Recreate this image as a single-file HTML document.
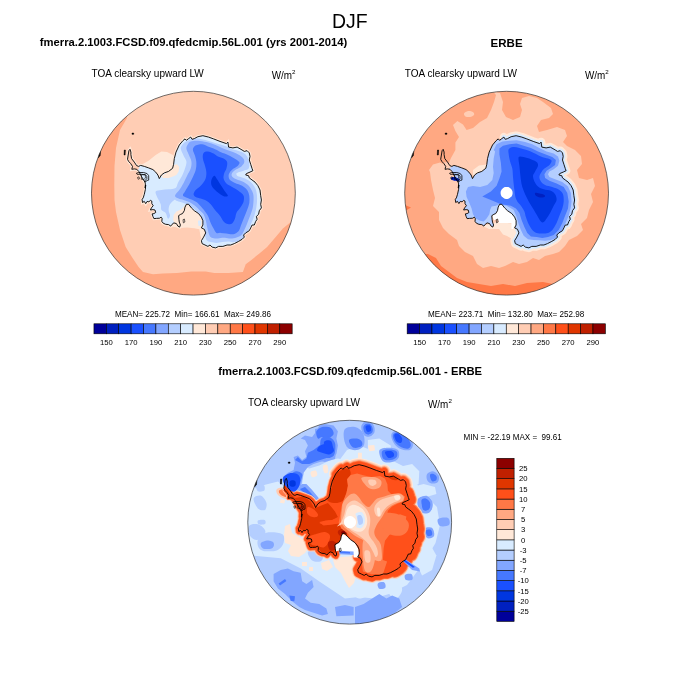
<!DOCTYPE html>
<html><head><meta charset="utf-8"><title>DJF TOA clearsky upward LW</title>
<style>
html,body{margin:0;padding:0;background:#fff;}
body{width:700px;height:700px;overflow:hidden;}
svg{display:block;}
text{font-family:"Liberation Sans",sans-serif;fill:#000;}
</style></head><body>
<svg width="700" height="700" viewBox="0 0 700 700">
<rect width="700" height="700" fill="#fff"/>
<text x="349.8" y="27.7" font-size="19.6" text-anchor="middle" font-weight="normal" textLength="35.6" lengthAdjust="spacingAndGlyphs" xml:space="preserve">DJF</text>
<text x="193.5" y="45.8" font-size="11.1" text-anchor="middle" font-weight="bold" textLength="307.4" lengthAdjust="spacingAndGlyphs" xml:space="preserve">fmerra.2.1003.FCSD.f09.qfedcmip.56L.001 (yrs 2001-2014)</text>
<text x="506.6" y="47.1" font-size="11.3" text-anchor="middle" font-weight="bold" textLength="32.0" lengthAdjust="spacingAndGlyphs" xml:space="preserve">ERBE</text>
<text x="350.2" y="375.3" font-size="11.1" text-anchor="middle" font-weight="bold" textLength="263.8" lengthAdjust="spacingAndGlyphs" xml:space="preserve">fmerra.2.1003.FCSD.f09.qfedcmip.56L.001 - ERBE</text>
<text x="91.6" y="76.6" font-size="10.3" text-anchor="start" font-weight="normal" textLength="112.2" lengthAdjust="spacingAndGlyphs" xml:space="preserve">TOA clearsky upward LW</text>
<text x="404.8" y="76.6" font-size="10.3" text-anchor="start" font-weight="normal" textLength="112.2" lengthAdjust="spacingAndGlyphs" xml:space="preserve">TOA clearsky upward LW</text>
<text x="247.9" y="405.7" font-size="10.3" text-anchor="start" font-weight="normal" textLength="112.2" lengthAdjust="spacingAndGlyphs" xml:space="preserve">TOA clearsky upward LW</text>
<text x="271.7" y="78.8" font-size="10.3" textLength="20.3" lengthAdjust="spacingAndGlyphs">W/m</text><text x="292.09999999999997" y="73.89999999999999" font-size="6.2">2</text>
<text x="584.9" y="78.8" font-size="10.3" textLength="20.3" lengthAdjust="spacingAndGlyphs">W/m</text><text x="605.3" y="73.89999999999999" font-size="6.2">2</text>
<text x="428.0" y="407.9" font-size="10.3" textLength="20.3" lengthAdjust="spacingAndGlyphs">W/m</text><text x="448.4" y="403.0" font-size="6.2">2</text>
<text x="114.9" y="316.6" font-size="8.2" text-anchor="start" font-weight="normal" textLength="156.2" lengthAdjust="spacingAndGlyphs" xml:space="preserve">MEAN= 225.72  Min= 166.61  Max= 249.86</text>
<text x="428.1" y="316.6" font-size="8.2" text-anchor="start" font-weight="normal" textLength="156.2" lengthAdjust="spacingAndGlyphs" xml:space="preserve">MEAN= 223.71  Min= 132.80  Max= 252.98</text>
<text x="463.6" y="440.1" font-size="8.2" text-anchor="start" font-weight="normal" textLength="98.2" lengthAdjust="spacingAndGlyphs" xml:space="preserve">MIN = -22.19 MAX =  99.61</text>
<clipPath id="clip1"><circle cx="193.4" cy="193.2" r="101.9"/></clipPath>
<g clip-path="url(#clip1)">
<rect x="89.5" y="89.29999999999998" width="207.8" height="207.8" fill="#ffcdb4"/>
<path d="M126.5 115.5 L127.0 118.0 L120.0 130.0 L116.0 148.0 L114.5 166.0 L114.3 185.0 L114.5 200.0 L116.0 212.0 L120.0 230.0 L125.7 247.0 L132.9 258.6 L138.6 267.0 L143.0 272.0 L153.0 274.3 L163.0 273.6 L177.0 272.9 L191.4 271.4 L205.7 271.4 L214.3 272.9 L228.6 272.9 L242.9 272.1 L245.7 264.3 L251.4 260.0 L260.0 252.9 L267.1 247.1 L275.7 237.1 L282.9 228.6 L291.4 221.4 L300.0 215.0 L310.0 230.0 L310.0 310.0 L80.0 310.0 L80.0 100.0 L120.0 100.0Z" fill="#ffa882"/>
<path d="M141.4 164.7 L148.6 160.7 L155.7 155.0 L161.4 151.4 L167.1 152.1 L172.9 155.0 L175.0 158.6 L175.0 164.3 L173.6 168.6 L169.3 172.1 L165.0 174.0 L161.4 175.7 L159.3 179.3 L156.4 174.6 L153.6 171.1 L149.3 168.3 L145.7 166.1Z" fill="#ffe8d8"/>
<path d="M186.4 203.6 L191.4 207.1 L195.0 210.0 L199.3 213.1 L202.1 216.9 L203.6 220.7 L203.6 225.0 L205.0 228.6 L205.7 232.9 L204.3 237.1 L202.9 240.7 L200.7 237.1 L200.0 232.9 L199.3 229.3 L194.3 228.3 L187.1 227.4 L180.0 227.9 L174.3 227.1 L168.6 226.4 L164.3 225.4 L161.4 223.6 L161.7 220.0 L167.1 222.1 L180.0 211.4Z" fill="#ffe8d8"/>
<path d="M197.9 220.7 L201.7 220.0 L202.9 225.7 L198.6 226.0Z" fill="#d8ebff"/>
<path d="M130.0 149.3 L130.9 152.1 L130.9 154.6 L131.6 158.6 L134.3 162.1 L136.6 165.6 L138.6 166.4 L140.7 165.4 L144.3 166.4 L148.6 167.9 L152.9 169.6 L155.7 172.1 L157.9 175.0 L159.3 178.6 L161.4 175.0 L164.3 172.9 L168.6 171.4 L172.6 168.3 L173.6 164.3 L174.3 158.6 L176.0 152.1 L179.3 145.0 L182.9 140.7 L185.0 138.9 L186.4 140.3 L188.6 138.6 L190.7 137.1 L192.1 139.3 L194.3 138.6 L197.9 136.7 L202.9 135.7 L208.6 137.1 L213.6 138.9 L220.0 141.4 L226.4 143.6 L227.9 142.1 L228.6 147.1 L232.9 147.9 L237.1 147.1 L242.1 150.0 L244.3 151.4 L247.1 150.7 L249.3 152.9 L250.0 156.4 L249.3 160.0 L250.7 164.3 L252.1 168.6 L252.9 170.7 L250.0 172.1 L246.4 173.6 L245.7 175.0 L248.6 175.7 L249.3 177.9 L252.1 180.0 L255.0 182.1 L257.9 185.7 L260.0 190.0 L260.7 195.7 L261.4 200.0 L260.7 204.3 L261.4 207.9 L259.3 210.7 L258.6 214.3 L256.4 216.4 L257.1 219.3 L255.7 221.4 L254.3 225.0 L252.1 225.0 L250.7 227.9 L249.3 230.7 L245.7 232.9 L243.6 235.0 L244.3 237.1 L242.1 239.3 L238.6 241.4 L234.3 243.6 L230.7 245.0 L227.1 245.0 L222.9 246.4 L218.6 246.4 L215.7 247.9 L212.1 247.1 L210.0 245.0 L207.9 246.4 L205.0 245.0 L202.1 243.6 L201.4 240.7 L203.6 237.1 L205.7 232.9 L204.3 229.3 L201.4 227.9 L202.9 225.0 L202.9 220.7 L201.4 217.1 L198.6 213.6 L194.3 210.7 L191.4 207.9 L188.6 204.3 L186.4 204.3 L185.0 207.1 L184.3 210.7 L182.5 213.6 L180.7 214.3 L178.6 215.7 L178.9 219.3 L179.3 222.1 L180.4 225.0 L179.6 227.1 L177.9 226.1 L176.4 223.6 L173.9 222.9 L172.1 224.3 L170.7 226.1 L168.6 224.6 L165.7 224.3 L163.2 223.2 L161.8 221.4 L162.1 218.6 L161.1 217.1 L159.6 218.2 L156.4 218.4 L153.9 218.6 L152.9 216.4 L152.1 213.9 L153.9 213.6 L155.7 212.5 L155.0 210.0 L152.9 209.6 L150.4 210.0 L151.4 207.9 L153.2 205.7 L151.8 203.6 L151.8 201.1 L150.4 200.4 L148.9 201.8 L147.1 201.4 L145.7 203.6 L144.3 201.4 L142.5 202.5 L142.1 199.3 L143.2 197.9 L144.3 194.3 L145.4 189.3 L145.7 185.0 L145.1 187.9 L145.4 183.9 L144.9 182.1 L141.4 176.4 L138.9 171.6 L136.8 169.3 L134.3 168.9 L131.8 169.3 L132.5 166.4 L130.7 163.6 L128.6 161.4 L127.5 159.3 L128.2 155.0 L128.9 150.7Z" fill="none" stroke="#ffe8d8" stroke-width="3"/>
<clipPath id="cont1"><path d="M130.0 149.3 L130.9 152.1 L130.9 154.6 L131.6 158.6 L134.3 162.1 L136.6 165.6 L138.6 166.4 L140.7 165.4 L144.3 166.4 L148.6 167.9 L152.9 169.6 L155.7 172.1 L157.9 175.0 L159.3 178.6 L161.4 175.0 L164.3 172.9 L168.6 171.4 L172.6 168.3 L173.6 164.3 L174.3 158.6 L176.0 152.1 L179.3 145.0 L182.9 140.7 L185.0 138.9 L186.4 140.3 L188.6 138.6 L190.7 137.1 L192.1 139.3 L194.3 138.6 L197.9 136.7 L202.9 135.7 L208.6 137.1 L213.6 138.9 L220.0 141.4 L226.4 143.6 L227.9 142.1 L228.6 147.1 L232.9 147.9 L237.1 147.1 L242.1 150.0 L244.3 151.4 L247.1 150.7 L249.3 152.9 L250.0 156.4 L249.3 160.0 L250.7 164.3 L252.1 168.6 L252.9 170.7 L250.0 172.1 L246.4 173.6 L245.7 175.0 L248.6 175.7 L249.3 177.9 L252.1 180.0 L255.0 182.1 L257.9 185.7 L260.0 190.0 L260.7 195.7 L261.4 200.0 L260.7 204.3 L261.4 207.9 L259.3 210.7 L258.6 214.3 L256.4 216.4 L257.1 219.3 L255.7 221.4 L254.3 225.0 L252.1 225.0 L250.7 227.9 L249.3 230.7 L245.7 232.9 L243.6 235.0 L244.3 237.1 L242.1 239.3 L238.6 241.4 L234.3 243.6 L230.7 245.0 L227.1 245.0 L222.9 246.4 L218.6 246.4 L215.7 247.9 L212.1 247.1 L210.0 245.0 L207.9 246.4 L205.0 245.0 L202.1 243.6 L201.4 240.7 L203.6 237.1 L205.7 232.9 L204.3 229.3 L201.4 227.9 L202.9 225.0 L202.9 220.7 L201.4 217.1 L198.6 213.6 L194.3 210.7 L191.4 207.9 L188.6 204.3 L186.4 204.3 L185.0 207.1 L184.3 210.7 L182.5 213.6 L180.7 214.3 L178.6 215.7 L178.9 219.3 L179.3 222.1 L180.4 225.0 L179.6 227.1 L177.9 226.1 L176.4 223.6 L173.9 222.9 L172.1 224.3 L170.7 226.1 L168.6 224.6 L165.7 224.3 L163.2 223.2 L161.8 221.4 L162.1 218.6 L161.1 217.1 L159.6 218.2 L156.4 218.4 L153.9 218.6 L152.9 216.4 L152.1 213.9 L153.9 213.6 L155.7 212.5 L155.0 210.0 L152.9 209.6 L150.4 210.0 L151.4 207.9 L153.2 205.7 L151.8 203.6 L151.8 201.1 L150.4 200.4 L148.9 201.8 L147.1 201.4 L145.7 203.6 L144.3 201.4 L142.5 202.5 L142.1 199.3 L143.2 197.9 L144.3 194.3 L145.4 189.3 L145.7 185.0 L145.1 187.9 L145.4 183.9 L144.9 182.1 L141.4 176.4 L138.9 171.6 L136.8 169.3 L134.3 168.9 L131.8 169.3 L132.5 166.4 L130.7 163.6 L128.6 161.4 L127.5 159.3 L128.2 155.0 L128.9 150.7Z"/></clipPath>
<g clip-path="url(#cont1)">
<path d="M130.0 149.3 L130.9 152.1 L130.9 154.6 L131.6 158.6 L134.3 162.1 L136.6 165.6 L138.6 166.4 L140.7 165.4 L144.3 166.4 L148.6 167.9 L152.9 169.6 L155.7 172.1 L157.9 175.0 L159.3 178.6 L161.4 175.0 L164.3 172.9 L168.6 171.4 L172.6 168.3 L173.6 164.3 L174.3 158.6 L176.0 152.1 L179.3 145.0 L182.9 140.7 L185.0 138.9 L186.4 140.3 L188.6 138.6 L190.7 137.1 L192.1 139.3 L194.3 138.6 L197.9 136.7 L202.9 135.7 L208.6 137.1 L213.6 138.9 L220.0 141.4 L226.4 143.6 L227.9 142.1 L228.6 147.1 L232.9 147.9 L237.1 147.1 L242.1 150.0 L244.3 151.4 L247.1 150.7 L249.3 152.9 L250.0 156.4 L249.3 160.0 L250.7 164.3 L252.1 168.6 L252.9 170.7 L250.0 172.1 L246.4 173.6 L245.7 175.0 L248.6 175.7 L249.3 177.9 L252.1 180.0 L255.0 182.1 L257.9 185.7 L260.0 190.0 L260.7 195.7 L261.4 200.0 L260.7 204.3 L261.4 207.9 L259.3 210.7 L258.6 214.3 L256.4 216.4 L257.1 219.3 L255.7 221.4 L254.3 225.0 L252.1 225.0 L250.7 227.9 L249.3 230.7 L245.7 232.9 L243.6 235.0 L244.3 237.1 L242.1 239.3 L238.6 241.4 L234.3 243.6 L230.7 245.0 L227.1 245.0 L222.9 246.4 L218.6 246.4 L215.7 247.9 L212.1 247.1 L210.0 245.0 L207.9 246.4 L205.0 245.0 L202.1 243.6 L201.4 240.7 L203.6 237.1 L205.7 232.9 L204.3 229.3 L201.4 227.9 L202.9 225.0 L202.9 220.7 L201.4 217.1 L198.6 213.6 L194.3 210.7 L191.4 207.9 L188.6 204.3 L186.4 204.3 L185.0 207.1 L184.3 210.7 L182.5 213.6 L180.7 214.3 L178.6 215.7 L178.9 219.3 L179.3 222.1 L180.4 225.0 L179.6 227.1 L177.9 226.1 L176.4 223.6 L173.9 222.9 L172.1 224.3 L170.7 226.1 L168.6 224.6 L165.7 224.3 L163.2 223.2 L161.8 221.4 L162.1 218.6 L161.1 217.1 L159.6 218.2 L156.4 218.4 L153.9 218.6 L152.9 216.4 L152.1 213.9 L153.9 213.6 L155.7 212.5 L155.0 210.0 L152.9 209.6 L150.4 210.0 L151.4 207.9 L153.2 205.7 L151.8 203.6 L151.8 201.1 L150.4 200.4 L148.9 201.8 L147.1 201.4 L145.7 203.6 L144.3 201.4 L142.5 202.5 L142.1 199.3 L143.2 197.9 L144.3 194.3 L145.4 189.3 L145.7 185.0 L145.1 187.9 L145.4 183.9 L144.9 182.1 L141.4 176.4 L138.9 171.6 L136.8 169.3 L134.3 168.9 L131.8 169.3 L132.5 166.4 L130.7 163.6 L128.6 161.4 L127.5 159.3 L128.2 155.0 L128.9 150.7Z" fill="#d8ebff"/>
<path d="M161.4 175.7 L165.7 173.6 L172.6 168.6 L174.0 165.0 L177.1 164.3 L179.3 167.1 L178.6 171.4 L176.4 175.0 L172.9 176.4 L168.6 177.9 L162.9 177.9Z" fill="#ffe8d8"/>
<path d="M173.6 215.0 L176.4 211.4 L181.4 209.3 L187.1 202.9 L183.9 211.4 L181.7 214.3 L178.9 216.0 L179.6 220.7 L181.4 224.3 L179.3 227.4 L177.1 225.0 L175.0 224.3 L173.1 220.0Z" fill="#ffe8d8"/>
<path d="M125.7 147.1 L132.9 148.6 L135.0 164.3 L139.3 167.4 L136.4 172.9 L128.6 168.6Z" fill="#ffcdb4"/>
<path d="M180.7 148.6 C180.5 146.8 181.4 146.1 182.1 145.0 C182.9 143.9 183.8 143.0 185.0 142.1 C186.2 141.3 187.9 140.6 189.3 140.0 C190.7 139.4 191.7 138.8 193.6 138.6 C195.5 138.4 198.3 138.5 200.7 138.9 C203.1 139.2 205.5 140.0 207.9 140.7 C210.2 141.4 212.6 142.1 215.0 142.9 C217.4 143.6 220.0 144.3 222.1 145.0 C224.3 145.7 226.2 146.4 227.9 147.1 C229.5 147.9 230.5 148.7 232.1 149.3 C233.8 149.9 236.0 150.1 237.9 150.7 C239.8 151.3 242.0 151.9 243.6 152.9 C245.1 153.8 246.3 155.1 247.1 156.4 C248.0 157.7 248.2 159.2 248.6 160.7 C248.9 162.3 249.4 164.3 249.3 165.7 C249.2 167.1 248.8 168.5 247.9 169.3 C246.9 170.1 245.0 170.2 243.6 170.7 C242.1 171.2 240.5 171.7 239.3 172.1 C238.1 172.6 236.8 173.0 236.4 173.6 C236.1 174.2 236.4 175.1 237.1 175.7 C237.9 176.3 239.2 176.5 240.7 177.1 C242.3 177.7 244.8 178.5 246.4 179.3 C248.1 180.1 249.4 180.9 250.7 182.1 C252.0 183.3 253.3 184.9 254.3 186.4 C255.2 188.0 256.0 189.4 256.4 191.4 C256.9 193.5 257.1 196.0 257.1 198.6 C257.1 201.2 256.9 204.3 256.4 207.1 C256.0 210.0 255.1 213.1 254.3 215.7 C253.5 218.3 252.4 220.5 251.4 222.9 C250.5 225.2 249.6 227.7 248.6 230.0 C247.5 232.3 246.5 234.6 245.0 236.4 C243.5 238.2 241.2 239.8 239.3 240.7 C237.4 241.7 235.5 242.0 233.6 242.1 C231.7 242.3 229.8 241.4 227.9 241.4 C226.0 241.4 224.0 241.9 222.1 242.1 C220.2 242.4 218.3 242.9 216.4 242.9 C214.5 242.9 212.4 242.6 210.7 242.1 C209.0 241.7 207.4 241.3 206.4 240.0 C205.5 238.7 205.4 236.2 205.0 234.3 C204.6 232.4 204.6 230.5 204.3 228.6 C203.9 226.7 203.5 224.8 202.9 222.9 C202.3 221.0 201.5 218.8 200.7 217.1 C199.9 215.5 199.1 214.3 197.9 212.9 C196.7 211.4 195.0 209.8 193.6 208.6 C192.1 207.4 190.7 206.5 189.3 205.7 C187.9 204.9 186.4 204.2 185.0 203.6 C183.6 203.0 182.1 202.6 180.7 202.1 C179.3 201.7 177.5 201.1 176.4 200.7 C175.4 200.4 175.4 199.4 174.3 200.0 C173.2 200.6 171.0 202.6 170.0 204.3 C169.0 206.0 168.6 208.1 168.6 210.0 C168.6 211.9 170.1 214.3 170.0 215.7 C169.9 217.1 168.6 219.0 167.9 218.6 C167.1 218.1 166.8 214.3 165.7 212.9 C164.6 211.4 162.3 211.4 161.4 210.0 C160.6 208.6 161.4 206.4 160.7 204.3 C160.0 202.1 158.0 199.3 157.1 197.1 C156.3 195.0 155.0 192.6 155.7 191.4 C156.4 190.2 159.3 190.4 161.4 190.0 C163.6 189.6 166.2 189.6 168.6 189.3 C170.9 188.9 174.2 188.9 175.7 187.9 C177.3 186.8 176.8 184.9 177.9 182.9 C178.9 180.8 180.9 178.1 182.1 175.7 C183.3 173.3 184.3 170.9 185.0 168.6 C185.7 166.2 186.7 163.6 186.4 161.4 C186.2 159.3 184.5 157.9 183.6 155.7 C182.6 153.6 180.9 150.4 180.7 148.6Z" fill="#b4ceff"/>
<path d="M186.4 148.6 C186.3 146.9 187.1 145.5 187.9 144.3 C188.6 143.1 189.0 142.0 190.7 141.4 C192.4 140.8 195.2 140.6 197.9 140.7 C200.5 140.8 203.8 141.5 206.4 142.1 C209.0 142.7 211.0 143.3 213.6 144.3 C216.2 145.2 219.5 146.8 222.1 147.9 C224.8 148.9 226.9 149.8 229.3 150.7 C231.7 151.7 234.2 152.4 236.4 153.6 C238.7 154.8 241.6 156.4 242.9 157.9 C244.2 159.3 244.5 160.7 244.3 162.1 C244.1 163.6 242.7 165.2 241.4 166.4 C240.1 167.6 238.0 168.2 236.4 169.3 C234.9 170.4 232.9 171.7 232.1 172.9 C231.4 174.1 231.4 175.4 232.1 176.4 C232.9 177.5 234.5 178.3 236.4 179.3 C238.3 180.2 241.4 180.9 243.6 182.1 C245.7 183.3 247.7 184.6 249.3 186.4 C250.8 188.2 252.1 190.8 252.9 192.9 C253.6 194.9 253.6 196.2 253.6 198.6 C253.6 200.9 253.3 204.5 252.9 207.1 C252.4 209.8 251.5 211.9 250.7 214.3 C249.9 216.7 248.8 219.1 247.9 221.4 C246.9 223.8 246.0 226.4 245.0 228.6 C244.0 230.7 243.3 232.9 242.1 234.3 C240.9 235.7 239.5 236.4 237.9 237.1 C236.2 237.9 234.0 238.4 232.1 238.6 C230.2 238.7 228.3 238.0 226.4 237.9 C224.5 237.7 222.6 237.7 220.7 237.9 C218.8 238.0 216.7 238.7 215.0 238.6 C213.3 238.4 211.8 238.1 210.7 237.1 C209.6 236.2 209.2 234.5 208.6 232.9 C208.0 231.2 207.6 229.3 207.1 227.1 C206.7 225.0 206.3 222.1 205.7 220.0 C205.1 217.9 204.6 216.0 203.6 214.3 C202.5 212.6 200.7 211.4 199.3 210.0 C197.9 208.6 196.7 207.0 195.0 205.7 C193.3 204.4 191.2 203.1 189.3 202.1 C187.4 201.2 185.4 200.6 183.6 200.0 C181.8 199.4 180.0 199.3 178.6 198.6 C177.1 197.9 174.9 197.1 175.0 195.7 C175.1 194.3 177.9 192.1 179.3 190.0 C180.7 187.9 182.3 185.2 183.6 182.9 C184.9 180.5 185.9 178.1 187.1 175.7 C188.3 173.3 190.0 170.9 190.7 168.6 C191.4 166.2 191.8 163.8 191.4 161.4 C191.1 159.1 189.4 156.4 188.6 154.3 C187.7 152.1 186.5 150.2 186.4 148.6Z" fill="#82a6ff"/>
<path d="M192.9 150.0 C192.7 148.5 193.6 147.3 194.3 146.4 C195.0 145.6 195.8 145.4 197.1 145.0 C198.4 144.6 200.4 144.1 202.1 144.3 C203.9 144.5 206.0 145.7 207.9 146.4 C209.8 147.1 211.7 147.7 213.6 148.6 C215.5 149.4 217.1 150.5 219.3 151.4 C221.4 152.4 224.1 153.2 226.4 154.3 C228.8 155.4 231.4 156.6 233.6 157.9 C235.7 159.2 238.6 160.8 239.3 162.1 C240.0 163.4 238.8 164.6 237.9 165.7 C236.9 166.8 234.9 167.5 233.6 168.6 C232.3 169.6 230.8 170.9 230.0 172.1 C229.2 173.3 228.6 174.4 228.6 175.7 C228.6 177.0 228.9 178.8 230.0 180.0 C231.1 181.2 233.0 181.9 235.0 182.9 C237.0 183.8 240.1 184.5 242.1 185.7 C244.2 186.9 245.9 188.3 247.1 190.0 C248.3 191.7 248.9 193.6 249.3 195.7 C249.6 197.9 249.6 200.5 249.3 202.9 C248.9 205.2 248.0 207.6 247.1 210.0 C246.3 212.4 245.2 214.8 244.3 217.1 C243.3 219.5 242.3 222.1 241.4 224.3 C240.6 226.4 240.1 228.6 239.3 230.0 C238.5 231.4 237.6 232.1 236.4 232.9 C235.2 233.6 233.8 234.2 232.1 234.3 C230.5 234.4 228.3 233.8 226.4 233.6 C224.5 233.3 222.4 233.0 220.7 232.9 C219.0 232.7 217.6 233.6 216.4 232.9 C215.2 232.1 214.5 230.2 213.6 228.6 C212.6 226.9 211.7 225.0 210.7 222.9 C209.8 220.7 208.8 217.6 207.9 215.7 C206.9 213.8 206.1 212.9 205.0 211.4 C203.9 210.0 202.9 208.7 201.4 207.1 C200.0 205.6 198.2 203.4 196.4 202.1 C194.6 200.8 192.6 200.1 190.7 199.3 C188.8 198.5 186.3 197.9 185.0 197.1 C183.7 196.4 182.9 196.0 182.9 195.0 C182.9 194.0 183.9 193.2 185.0 191.4 C186.1 189.6 188.0 186.7 189.3 184.3 C190.6 181.9 191.8 179.5 192.9 177.1 C193.9 174.8 195.1 172.4 195.7 170.0 C196.3 167.6 196.5 165.2 196.4 162.9 C196.3 160.5 195.6 157.9 195.0 155.7 C194.4 153.6 193.0 151.5 192.9 150.0Z" fill="#4678ff"/>
<path d="M203.6 152.9 C204.4 151.7 206.2 151.3 207.9 151.4 C209.5 151.5 211.9 152.7 213.6 153.6 C215.2 154.4 216.2 155.6 217.9 156.4 C219.5 157.3 222.0 157.6 223.6 158.6 C225.1 159.5 226.7 160.5 227.1 162.1 C227.6 163.8 226.9 166.8 226.4 168.6 C226.0 170.4 224.8 171.2 224.3 172.9 C223.8 174.5 223.2 176.8 223.6 178.6 C223.9 180.4 225.0 182.1 226.4 183.6 C227.9 185.0 230.0 185.8 232.1 187.1 C234.3 188.4 237.4 190.0 239.3 191.4 C241.2 192.9 242.9 194.0 243.6 195.7 C244.3 197.4 244.0 199.5 243.6 201.4 C243.1 203.3 241.9 205.2 240.7 207.1 C239.5 209.0 237.4 211.0 236.4 212.9 C235.5 214.8 235.7 216.8 235.0 218.6 C234.3 220.4 233.3 222.7 232.1 223.6 C230.9 224.5 229.3 224.4 227.9 224.0 C226.4 223.6 224.9 222.8 223.6 221.4 C222.3 220.0 221.4 217.6 220.0 215.7 C218.6 213.8 216.5 211.9 215.0 210.0 C213.5 208.1 212.1 205.8 210.7 204.3 C209.3 202.7 208.1 201.7 206.4 200.7 C204.8 199.8 202.5 199.2 200.7 198.6 C198.9 198.0 196.9 197.9 195.7 197.1 C194.5 196.4 193.6 195.5 193.6 194.3 C193.6 193.1 194.5 191.4 195.7 190.0 C196.9 188.6 199.2 187.4 200.7 185.7 C202.3 184.0 204.0 182.1 205.0 180.0 C206.0 177.9 206.4 175.2 206.4 172.9 C206.4 170.5 205.6 168.1 205.0 165.7 C204.4 163.3 203.1 160.7 202.9 158.6 C202.6 156.4 202.7 154.1 203.6 152.9Z" fill="#1a50ff"/>
<path d="M214.3 175.7 C215.2 175.6 216.1 177.7 217.1 179.3 C218.2 180.8 219.4 183.0 220.7 185.0 C222.0 187.0 223.8 189.6 225.0 191.4 C226.2 193.2 228.0 194.9 227.9 195.7 C227.7 196.5 225.7 196.8 224.3 196.4 C222.9 196.1 221.0 194.8 219.3 193.6 C217.6 192.4 215.6 190.7 214.3 189.3 C213.0 187.9 211.9 186.5 211.4 185.0 C211.0 183.5 211.0 181.5 211.4 180.0 C211.9 178.5 213.3 175.8 214.3 175.7Z" fill="#0036e0"/>
</g>
<path d="M130.0 149.3 L130.9 152.1 L130.9 154.6 L131.6 158.6 L134.3 162.1 L136.6 165.6 L138.6 166.4 L140.7 165.4 L144.3 166.4 L148.6 167.9 L152.9 169.6 L155.7 172.1 L157.9 175.0 L159.3 178.6 L161.4 175.0 L164.3 172.9 L168.6 171.4 L172.6 168.3 L173.6 164.3 L174.3 158.6 L176.0 152.1 L179.3 145.0 L182.9 140.7 L185.0 138.9 L186.4 140.3 L188.6 138.6 L190.7 137.1 L192.1 139.3 L194.3 138.6 L197.9 136.7 L202.9 135.7 L208.6 137.1 L213.6 138.9 L220.0 141.4 L226.4 143.6 L227.9 142.1 L228.6 147.1 L232.9 147.9 L237.1 147.1 L242.1 150.0 L244.3 151.4 L247.1 150.7 L249.3 152.9 L250.0 156.4 L249.3 160.0 L250.7 164.3 L252.1 168.6 L252.9 170.7 L250.0 172.1 L246.4 173.6 L245.7 175.0 L248.6 175.7 L249.3 177.9 L252.1 180.0 L255.0 182.1 L257.9 185.7 L260.0 190.0 L260.7 195.7 L261.4 200.0 L260.7 204.3 L261.4 207.9 L259.3 210.7 L258.6 214.3 L256.4 216.4 L257.1 219.3 L255.7 221.4 L254.3 225.0 L252.1 225.0 L250.7 227.9 L249.3 230.7 L245.7 232.9 L243.6 235.0 L244.3 237.1 L242.1 239.3 L238.6 241.4 L234.3 243.6 L230.7 245.0 L227.1 245.0 L222.9 246.4 L218.6 246.4 L215.7 247.9 L212.1 247.1 L210.0 245.0 L207.9 246.4 L205.0 245.0 L202.1 243.6 L201.4 240.7 L203.6 237.1 L205.7 232.9 L204.3 229.3 L201.4 227.9 L202.9 225.0 L202.9 220.7 L201.4 217.1 L198.6 213.6 L194.3 210.7 L191.4 207.9 L188.6 204.3 L186.4 204.3 L185.0 207.1 L184.3 210.7 L182.5 213.6 L180.7 214.3 L178.6 215.7 L178.9 219.3 L179.3 222.1 L180.4 225.0 L179.6 227.1 L177.9 226.1 L176.4 223.6 L173.9 222.9 L172.1 224.3 L170.7 226.1 L168.6 224.6 L165.7 224.3 L163.2 223.2 L161.8 221.4 L162.1 218.6 L161.1 217.1 L159.6 218.2 L156.4 218.4 L153.9 218.6 L152.9 216.4 L152.1 213.9 L153.9 213.6 L155.7 212.5 L155.0 210.0 L152.9 209.6 L150.4 210.0 L151.4 207.9 L153.2 205.7 L151.8 203.6 L151.8 201.1 L150.4 200.4 L148.9 201.8 L147.1 201.4 L145.7 203.6 L144.3 201.4 L142.5 202.5 L142.1 199.3 L143.2 197.9 L144.3 194.3 L145.4 189.3 L145.7 185.0 L145.1 187.9 L145.4 183.9 L144.9 182.1 L141.4 176.4 L138.9 171.6 L136.8 169.3 L134.3 168.9 L131.8 169.3 L132.5 166.4 L130.7 163.6 L128.6 161.4 L127.5 159.3 L128.2 155.0 L128.9 150.7Z" fill="none" stroke="#000" stroke-width="0.9" stroke-linejoin="round"/>
<path d="M136.4 173.2 L138.6 172.5 L143.6 172.5 L147.1 173.6 L148.7 175.7 L148.7 180.1 L147.1 180.5 L145.1 182.1 L145.0 180.7 L146.8 178.6 L146.8 176.4 L145.4 174.6 L141.4 174.3 L137.1 174.3Z" fill="none" stroke="#000" stroke-width="0.8"/>
<path d="M141.4 174.6 L141.4 179.3 L143.6 179.6 L145.4 178.2 L145.4 175.0Z" fill="none" stroke="#000" stroke-width="0.6"/>
<path d="M137.5 177.5 L138.9 176.8 L139.6 178.6 L138.2 179.3Z" fill="none" stroke="#000" stroke-width="0.6"/>
<path d="M183.0 219.7 L184.4 219.0 L184.9 222.0 L183.4 222.9Z" fill="none" stroke="#000" stroke-width="0.6"/>
<path d="M124.3 150.0 L125.4 150.0 L125.1 155.0 L124.1 155.0Z" fill="#000" stroke="#000" stroke-width="0.5"/>
<path d="M132.0 133.1 L133.7 133.1 L133.7 134.3 L132.0 134.3Z" fill="#000" stroke="#000" stroke-width="0.5"/>
<path d="M98.5 152.9 L100.6 151.2 L100.2 155.4 L98.2 158.0Z" fill="#000" stroke="#000" stroke-width="0.5"/>
</g>
<circle cx="193.4" cy="193.2" r="101.9" fill="none" stroke="#333" stroke-width="0.7"/>
<clipPath id="clip2"><circle cx="506.6" cy="193.2" r="101.9"/></clipPath>
<g clip-path="url(#clip2)">
<rect x="402.70000000000005" y="89.29999999999998" width="207.8" height="207.8" fill="#ffa882"/>
<path d="M429.0 170.0 L433.0 164.4 L440.0 162.4 L444.0 164.4 L448.0 165.0 L451.0 158.0 L455.4 150.0 L455.4 142.4 L459.0 137.0 L455.4 131.0 L453.0 125.0 L457.4 121.0 L463.0 124.4 L466.6 130.0 L473.0 128.0 L480.0 122.0 L487.0 118.0 L491.0 110.0 L494.0 102.0 L496.0 95.0 L493.0 91.6 L500.0 93.0 L503.0 102.0 L502.0 110.0 L506.0 117.0 L513.0 120.0 L520.0 117.0 L522.0 110.0 L520.0 104.0 L522.0 98.0 L529.0 96.0 L537.0 98.0 L543.0 102.0 L551.0 108.0 L553.0 114.0 L549.0 118.0 L541.0 120.0 L537.0 126.0 L539.0 132.0 L547.0 130.0 L557.0 127.0 L565.0 130.0 L567.0 136.0 L563.0 142.0 L567.0 146.0 L575.0 150.0 L581.0 156.0 L582.0 164.0 L577.0 170.0 L579.0 178.0 L587.0 180.0 L593.0 178.0 L595.0 186.0 L591.0 194.0 L593.0 202.0 L589.0 210.0 L587.0 218.0 L581.0 224.0 L583.0 230.0 L577.0 236.0 L569.0 240.0 L565.0 246.0 L559.0 252.0 L553.0 254.0 L545.0 256.0 L539.0 260.0 L533.0 258.0 L527.0 262.0 L519.0 264.0 L513.0 262.0 L505.0 266.0 L499.0 268.0 L491.0 266.0 L483.0 268.0 L477.0 264.0 L473.0 256.0 L465.0 252.0 L459.0 246.0 L457.0 240.0 L449.0 234.0 L443.0 228.0 L439.0 220.0 L439.0 212.0 L433.0 206.0 L435.0 198.0 L433.0 190.0 L431.0 180.0 L430.0 172.0Z" fill="#ffcdb4"/>
<path d="M464.0 113.6 C464.4 112.7 466.5 111.3 468.0 111.0 C469.5 110.7 472.0 111.3 473.0 112.0 C474.0 112.7 474.5 114.2 474.0 115.0 C473.5 115.8 471.4 116.8 470.0 117.0 C468.6 117.2 466.4 117.0 465.4 116.4 C464.4 115.8 463.6 114.5 464.0 113.6Z" fill="#ffcdb4"/>
<path d="M428.0 254.0 L436.0 258.0 L441.0 266.0 L449.0 272.0 L457.0 278.0 L467.0 282.0 L479.0 284.0 L491.0 286.0 L503.0 284.0 L515.0 286.0 L527.0 283.0 L543.0 282.0 L553.0 284.0 L563.0 282.0 L573.0 280.0 L583.0 278.0 L623.0 278.0 L623.0 320.0 L403.0 320.0 L403.0 254.0Z" fill="#ff7846"/>
<path d="M405.0 205.0 L411.0 207.6 L406.0 210.4Z" fill="#ff7846"/>
<path d="M483.0 226.0 L491.0 223.6 L501.0 221.6 L511.0 223.6 L516.0 230.0 L518.0 242.0 L512.0 239.0 L507.0 236.0 L503.0 234.4 L499.0 229.0 L489.0 229.0Z" fill="#ffe8d8"/>
<path d="M473.0 170.0 L479.0 165.6 L487.0 164.4 L491.0 167.0 L489.0 172.0 L479.0 175.0 L473.0 176.0Z" fill="#ffe8d8"/>
<path d="M500.1 203.6 L506.6 207.1 L512.7 212.6 L516.1 218.6 L517.6 225.0 L516.6 228.9 L511.6 229.1 L511.3 223.1 L499.4 222.9 L497.6 218.9 L494.1 220.3 L491.9 215.7 L495.9 212.9 L498.0 207.9Z" fill="#fff"/>
<path d="M503.9 137.1 L505.3 139.3 L507.5 138.6 L511.1 136.7 L516.1 135.7 L521.8 137.1 L526.8 138.9 L533.2 141.4 L539.6 143.6 L541.1 142.1 L541.8 147.1 L546.1 147.9 L550.3 147.1 L555.3 150.0 L557.5 151.4 L560.3 150.7 L562.5 152.9 L563.2 156.4 L562.5 160.0 L563.9 164.3 L565.3 168.6 L566.1 170.7 L563.2 172.1 L559.6 173.6 L558.9 175.0 L561.8 175.7 L562.5 177.9 L565.3 180.0 L568.2 182.1 L571.1 185.7 L573.2 190.0 L573.9 195.7 L574.6 200.0 L573.9 204.3 L574.6 207.9 L572.5 210.7 L571.8 214.3 L569.6 216.4 L570.3 219.3 L568.9 221.4 L567.5 225.0 L565.3 225.0 L563.9 227.9 L562.5 230.7 L558.9 232.9 L556.8 235.0 L557.5 237.1 L555.3 239.3 L551.8 241.4 L547.5 243.6 L543.9 245.0 L540.3 245.0 L536.1 246.4 L531.8 246.4 L528.9 247.9 L525.3 247.1 L523.2 245.0 L521.1 246.4 L518.2 245.0 L515.3 243.6 L514.6 240.7 L516.8 237.1 L518.9 232.9 L517.5 229.3" fill="none" stroke="#ffe8d8" stroke-width="8.5" stroke-linejoin="round" stroke-linecap="round"/>
<path d="M503.9 137.1 L505.3 139.3 L507.5 138.6 L511.1 136.7 L516.1 135.7 L521.8 137.1 L526.8 138.9 L533.2 141.4 L539.6 143.6 L541.1 142.1 L541.8 147.1 L546.1 147.9 L550.3 147.1 L555.3 150.0 L557.5 151.4 L560.3 150.7 L562.5 152.9 L563.2 156.4 L562.5 160.0 L563.9 164.3 L565.3 168.6 L566.1 170.7 L563.2 172.1 L559.6 173.6 L558.9 175.0 L561.8 175.7 L562.5 177.9 L565.3 180.0 L568.2 182.1 L571.1 185.7 L573.2 190.0 L573.9 195.7 L574.6 200.0 L573.9 204.3 L574.6 207.9 L572.5 210.7 L571.8 214.3 L569.6 216.4 L570.3 219.3 L568.9 221.4 L567.5 225.0 L565.3 225.0 L563.9 227.9 L562.5 230.7 L558.9 232.9 L556.8 235.0 L557.5 237.1 L555.3 239.3 L551.8 241.4 L547.5 243.6 L543.9 245.0 L540.3 245.0 L536.1 246.4 L531.8 246.4 L528.9 247.9 L525.3 247.1 L523.2 245.0 L521.1 246.4 L518.2 245.0 L515.3 243.6 L514.6 240.7 L516.8 237.1 L518.9 232.9 L517.5 229.3" fill="none" stroke="#d8ebff" stroke-width="4.6" stroke-linejoin="round" stroke-linecap="round"/>
<clipPath id="cont2"><path d="M443.2 149.3 L444.1 152.1 L444.1 154.6 L444.8 158.6 L447.5 162.1 L449.8 165.6 L451.8 166.4 L453.9 165.4 L457.5 166.4 L461.8 167.9 L466.1 169.6 L468.9 172.1 L471.1 175.0 L472.5 178.6 L474.6 175.0 L477.5 172.9 L481.8 171.4 L485.8 168.3 L486.8 164.3 L487.5 158.6 L489.2 152.1 L492.5 145.0 L496.1 140.7 L498.2 138.9 L499.6 140.3 L501.8 138.6 L503.9 137.1 L505.3 139.3 L507.5 138.6 L511.1 136.7 L516.1 135.7 L521.8 137.1 L526.8 138.9 L533.2 141.4 L539.6 143.6 L541.1 142.1 L541.8 147.1 L546.1 147.9 L550.3 147.1 L555.3 150.0 L557.5 151.4 L560.3 150.7 L562.5 152.9 L563.2 156.4 L562.5 160.0 L563.9 164.3 L565.3 168.6 L566.1 170.7 L563.2 172.1 L559.6 173.6 L558.9 175.0 L561.8 175.7 L562.5 177.9 L565.3 180.0 L568.2 182.1 L571.1 185.7 L573.2 190.0 L573.9 195.7 L574.6 200.0 L573.9 204.3 L574.6 207.9 L572.5 210.7 L571.8 214.3 L569.6 216.4 L570.3 219.3 L568.9 221.4 L567.5 225.0 L565.3 225.0 L563.9 227.9 L562.5 230.7 L558.9 232.9 L556.8 235.0 L557.5 237.1 L555.3 239.3 L551.8 241.4 L547.5 243.6 L543.9 245.0 L540.3 245.0 L536.1 246.4 L531.8 246.4 L528.9 247.9 L525.3 247.1 L523.2 245.0 L521.1 246.4 L518.2 245.0 L515.3 243.6 L514.6 240.7 L516.8 237.1 L518.9 232.9 L517.5 229.3 L514.6 227.9 L516.1 225.0 L516.1 220.7 L514.6 217.1 L511.8 213.6 L507.5 210.7 L504.6 207.9 L501.8 204.3 L499.6 204.3 L498.2 207.1 L497.5 210.7 L495.7 213.6 L493.9 214.3 L491.8 215.7 L492.1 219.3 L492.5 222.1 L493.6 225.0 L492.8 227.1 L491.1 226.1 L489.6 223.6 L487.1 222.9 L485.3 224.3 L483.9 226.1 L481.8 224.6 L478.9 224.3 L476.4 223.2 L475.0 221.4 L475.3 218.6 L474.3 217.1 L472.8 218.2 L469.6 218.4 L467.1 218.6 L466.1 216.4 L465.3 213.9 L467.1 213.6 L468.9 212.5 L468.2 210.0 L466.1 209.6 L463.6 210.0 L464.6 207.9 L466.4 205.7 L465.0 203.6 L465.0 201.1 L463.6 200.4 L462.1 201.8 L460.3 201.4 L458.9 203.6 L457.5 201.4 L455.7 202.5 L455.3 199.3 L456.4 197.9 L457.5 194.3 L458.6 189.3 L458.9 185.0 L458.3 187.9 L458.6 183.9 L458.1 182.1 L454.6 176.4 L452.1 171.6 L450.0 169.3 L447.5 168.9 L445.0 169.3 L445.7 166.4 L443.9 163.6 L441.8 161.4 L440.7 159.3 L441.4 155.0 L442.1 150.7Z"/></clipPath>
<g clip-path="url(#cont2)">
<path d="M443.2 149.3 L444.1 152.1 L444.1 154.6 L444.8 158.6 L447.5 162.1 L449.8 165.6 L451.8 166.4 L453.9 165.4 L457.5 166.4 L461.8 167.9 L466.1 169.6 L468.9 172.1 L471.1 175.0 L472.5 178.6 L474.6 175.0 L477.5 172.9 L481.8 171.4 L485.8 168.3 L486.8 164.3 L487.5 158.6 L489.2 152.1 L492.5 145.0 L496.1 140.7 L498.2 138.9 L499.6 140.3 L501.8 138.6 L503.9 137.1 L505.3 139.3 L507.5 138.6 L511.1 136.7 L516.1 135.7 L521.8 137.1 L526.8 138.9 L533.2 141.4 L539.6 143.6 L541.1 142.1 L541.8 147.1 L546.1 147.9 L550.3 147.1 L555.3 150.0 L557.5 151.4 L560.3 150.7 L562.5 152.9 L563.2 156.4 L562.5 160.0 L563.9 164.3 L565.3 168.6 L566.1 170.7 L563.2 172.1 L559.6 173.6 L558.9 175.0 L561.8 175.7 L562.5 177.9 L565.3 180.0 L568.2 182.1 L571.1 185.7 L573.2 190.0 L573.9 195.7 L574.6 200.0 L573.9 204.3 L574.6 207.9 L572.5 210.7 L571.8 214.3 L569.6 216.4 L570.3 219.3 L568.9 221.4 L567.5 225.0 L565.3 225.0 L563.9 227.9 L562.5 230.7 L558.9 232.9 L556.8 235.0 L557.5 237.1 L555.3 239.3 L551.8 241.4 L547.5 243.6 L543.9 245.0 L540.3 245.0 L536.1 246.4 L531.8 246.4 L528.9 247.9 L525.3 247.1 L523.2 245.0 L521.1 246.4 L518.2 245.0 L515.3 243.6 L514.6 240.7 L516.8 237.1 L518.9 232.9 L517.5 229.3 L514.6 227.9 L516.1 225.0 L516.1 220.7 L514.6 217.1 L511.8 213.6 L507.5 210.7 L504.6 207.9 L501.8 204.3 L499.6 204.3 L498.2 207.1 L497.5 210.7 L495.7 213.6 L493.9 214.3 L491.8 215.7 L492.1 219.3 L492.5 222.1 L493.6 225.0 L492.8 227.1 L491.1 226.1 L489.6 223.6 L487.1 222.9 L485.3 224.3 L483.9 226.1 L481.8 224.6 L478.9 224.3 L476.4 223.2 L475.0 221.4 L475.3 218.6 L474.3 217.1 L472.8 218.2 L469.6 218.4 L467.1 218.6 L466.1 216.4 L465.3 213.9 L467.1 213.6 L468.9 212.5 L468.2 210.0 L466.1 209.6 L463.6 210.0 L464.6 207.9 L466.4 205.7 L465.0 203.6 L465.0 201.1 L463.6 200.4 L462.1 201.8 L460.3 201.4 L458.9 203.6 L457.5 201.4 L455.7 202.5 L455.3 199.3 L456.4 197.9 L457.5 194.3 L458.6 189.3 L458.9 185.0 L458.3 187.9 L458.6 183.9 L458.1 182.1 L454.6 176.4 L452.1 171.6 L450.0 169.3 L447.5 168.9 L445.0 169.3 L445.7 166.4 L443.9 163.6 L441.8 161.4 L440.7 159.3 L441.4 155.0 L442.1 150.7Z" fill="#b4ceff"/>
<path d="M493.7 150.0 L496.6 144.3 L502.3 141.4 L509.4 140.7 L516.6 140.3 L525.1 142.1 L532.3 144.3 L539.4 147.9 L546.6 151.4 L553.7 153.6 L558.0 156.4 L559.4 160.7 L558.0 165.7 L553.7 169.3 L549.4 171.4 L548.0 174.3 L549.4 177.1 L555.1 179.3 L562.3 182.1 L568.0 186.4 L570.9 192.9 L571.6 201.4 L570.9 207.1 L568.7 215.7 L565.1 224.3 L561.6 231.4 L556.6 237.9 L550.9 240.0 L545.1 240.7 L539.4 240.3 L533.7 240.0 L528.0 239.3 L523.7 235.7 L520.9 230.0 L518.7 224.3 L516.6 217.1 L513.7 210.0 L506.6 205.7 L499.4 204.3 L495.9 205.7 L491.6 206.4 L490.1 210.0 L489.4 214.3 L486.6 218.6 L483.7 221.4 L480.1 220.7 L475.9 218.6 L473.0 214.3 L471.6 208.6 L469.4 202.9 L466.6 197.1 L465.9 191.4 L468.0 187.1 L473.0 186.0 L480.1 187.1 L487.3 185.0 L492.3 180.0 L493.7 172.9 L493.0 167.1 L493.7 158.6 L495.1 151.4Z" fill="#82a6ff"/>
<path d="M438.7 147.1 L445.9 148.6 L447.3 162.6 L441.3 164.0Z" fill="#ffa882"/>
<path d="M441.3 162.6 L447.6 162.3 L451.3 166.9 L447.3 170.3 L443.0 167.4Z" fill="#ffcdb4"/>
<path d="M499.4 148.6 L503.0 145.7 L509.4 144.3 L516.6 143.6 L523.7 145.7 L530.9 147.9 L538.0 151.4 L545.1 154.3 L552.3 157.1 L555.9 160.0 L555.1 165.0 L550.9 167.9 L546.6 170.7 L544.4 174.3 L545.1 177.9 L549.4 180.7 L556.6 183.6 L563.7 187.1 L567.3 192.9 L568.7 201.4 L568.0 208.6 L565.1 215.7 L562.3 222.9 L558.7 230.0 L553.7 235.0 L548.0 237.1 L542.3 237.9 L536.6 237.1 L530.9 236.4 L527.3 232.9 L524.4 227.1 L521.6 220.0 L519.4 212.9 L515.9 208.6 L510.9 205.7 L500.9 204.3 L498.0 202.9 L490.9 200.0 L482.3 196.4 L490.9 191.4 L496.6 185.7 L499.4 178.6 L501.6 171.4 L500.9 162.9 L499.4 154.3Z" fill="#4678ff"/>
<path d="M508.7 149.3 C509.4 148.1 511.2 147.4 513.0 147.1 C514.8 146.9 517.2 147.4 519.4 147.9 C521.7 148.3 524.2 149.2 526.6 150.0 C529.0 150.8 531.3 151.8 533.7 152.9 C536.1 153.9 538.5 155.5 540.9 156.4 C543.2 157.4 546.2 157.9 548.0 158.6 C549.8 159.3 551.3 159.6 551.6 160.7 C551.8 161.8 550.6 163.7 549.4 165.0 C548.2 166.3 545.9 167.3 544.4 168.6 C543.0 169.9 541.7 171.4 540.9 172.9 C540.0 174.3 539.4 175.7 539.4 177.1 C539.4 178.6 539.9 180.1 540.9 181.4 C541.8 182.7 543.2 184.0 545.1 185.0 C547.0 186.0 549.9 186.3 552.3 187.1 C554.7 188.0 557.6 188.8 559.4 190.0 C561.2 191.2 562.3 192.4 563.0 194.3 C563.7 196.2 563.8 199.1 563.7 201.4 C563.6 203.8 563.0 206.2 562.3 208.6 C561.6 210.9 560.4 213.3 559.4 215.7 C558.5 218.1 557.8 220.5 556.6 222.9 C555.4 225.2 553.7 228.3 552.3 230.0 C550.9 231.7 549.7 232.3 548.0 232.9 C546.3 233.5 544.2 233.6 542.3 233.6 C540.4 233.6 538.2 233.5 536.6 232.9 C534.9 232.3 533.6 231.4 532.3 230.0 C531.0 228.6 529.8 226.4 528.7 224.3 C527.6 222.1 526.6 219.3 525.9 217.1 C525.1 215.0 525.3 213.3 524.4 211.4 C523.6 209.5 522.0 207.4 520.9 205.7 C519.7 204.0 518.2 202.9 517.3 201.4 C516.4 200.0 515.9 199.0 515.4 197.1 C515.0 195.2 514.7 192.1 514.4 190.0 C514.1 187.9 513.9 186.4 513.7 184.3 C513.5 182.1 513.2 179.8 513.0 177.1 C512.8 174.5 512.8 171.2 512.3 168.6 C511.8 166.0 510.7 163.8 510.1 161.4 C509.5 159.1 508.9 156.3 508.7 154.3 C508.5 152.3 508.0 150.5 508.7 149.3Z" fill="#1a50ff"/>
<path d="M518.7 157.1 C519.4 155.7 521.7 156.8 523.7 157.1 C525.7 157.5 528.7 158.5 530.9 159.3 C533.0 160.1 535.4 161.1 536.6 162.1 C537.8 163.2 538.2 164.2 538.0 165.7 C537.8 167.3 536.0 169.8 535.1 171.4 C534.3 173.1 533.1 174.0 533.0 175.7 C532.9 177.4 533.6 179.6 534.4 181.4 C535.3 183.2 536.5 185.1 538.0 186.4 C539.5 187.7 541.6 188.6 543.7 189.3 C545.9 190.0 549.0 189.9 550.9 190.7 C552.8 191.5 554.2 192.7 555.1 194.3 C556.1 195.8 556.8 198.1 556.6 200.0 C556.3 201.9 554.8 203.6 553.7 205.7 C552.6 207.9 551.3 210.7 550.1 212.9 C549.0 215.0 547.6 217.0 546.6 218.6 C545.5 220.1 544.7 221.7 543.7 222.1 C542.8 222.6 541.9 222.5 540.9 221.4 C539.8 220.4 538.6 217.9 537.3 215.7 C536.0 213.6 534.4 210.9 533.0 208.6 C531.6 206.2 530.0 203.8 528.7 201.4 C527.4 199.1 526.2 196.7 525.1 194.3 C524.1 191.9 523.0 189.5 522.3 187.1 C521.6 184.8 521.2 182.4 520.9 180.0 C520.5 177.6 520.4 175.2 520.1 172.9 C519.9 170.5 519.7 168.3 519.4 165.7 C519.2 163.1 518.0 158.6 518.7 157.1Z" fill="#0036e0"/>
<path d="M535.1 192.9 C535.7 192.5 537.9 193.2 539.4 193.6 C541.0 193.9 543.6 194.4 544.4 195.0 C545.3 195.6 545.1 196.7 544.4 197.1 C543.7 197.5 541.6 197.7 540.1 197.4 C538.7 197.2 536.7 196.5 535.9 195.7 C535.0 194.9 534.5 193.2 535.1 192.9Z" fill="#0020c0"/>
</g>
<path d="M512.6 192.9 C512.6 193.4 512.5 194.0 512.4 194.5 C512.3 195.0 512.1 195.5 511.8 195.9 C511.5 196.3 511.2 196.8 510.8 197.1 C510.5 197.5 510.0 197.8 509.6 198.1 C509.2 198.4 508.7 198.6 508.2 198.7 C507.7 198.8 507.1 198.9 506.6 198.9 C506.1 198.9 505.5 198.8 505.0 198.7 C504.5 198.6 504.0 198.4 503.6 198.1 C503.2 197.8 502.7 197.5 502.4 197.1 C502.0 196.8 501.7 196.3 501.4 195.9 C501.1 195.5 500.9 195.0 500.8 194.5 C500.7 194.0 500.6 193.4 500.6 192.9 C500.6 192.4 500.7 191.8 500.8 191.3 C500.9 190.8 501.1 190.3 501.4 189.9 C501.7 189.5 502.0 189.0 502.4 188.7 C502.7 188.3 503.2 188.0 503.6 187.7 C504.0 187.4 504.5 187.2 505.0 187.1 C505.5 187.0 506.1 186.9 506.6 186.9 C507.1 186.9 507.7 187.0 508.2 187.1 C508.7 187.2 509.2 187.4 509.6 187.7 C510.0 188.0 510.5 188.3 510.8 188.7 C511.2 189.0 511.5 189.5 511.8 189.9 C512.1 190.3 512.3 190.8 512.4 191.3 C512.5 191.8 512.6 192.4 512.6 192.9Z" fill="#fff"/>
<path d="M450.9 177.9 C451.3 177.4 453.0 176.9 454.4 177.1 C455.9 177.4 458.7 178.6 459.4 179.3 C460.1 180.0 459.5 180.9 458.7 181.1 C457.9 181.4 455.6 180.9 454.4 180.7 C453.2 180.5 452.2 180.2 451.6 179.7 C451.0 179.2 450.4 178.3 450.9 177.9Z" fill="#0020c0"/>
<path d="M443.2 149.3 L444.1 152.1 L444.1 154.6 L444.8 158.6 L447.5 162.1 L449.8 165.6 L451.8 166.4 L453.9 165.4 L457.5 166.4 L461.8 167.9 L466.1 169.6 L468.9 172.1 L471.1 175.0 L472.5 178.6 L474.6 175.0 L477.5 172.9 L481.8 171.4 L485.8 168.3 L486.8 164.3 L487.5 158.6 L489.2 152.1 L492.5 145.0 L496.1 140.7 L498.2 138.9 L499.6 140.3 L501.8 138.6 L503.9 137.1 L505.3 139.3 L507.5 138.6 L511.1 136.7 L516.1 135.7 L521.8 137.1 L526.8 138.9 L533.2 141.4 L539.6 143.6 L541.1 142.1 L541.8 147.1 L546.1 147.9 L550.3 147.1 L555.3 150.0 L557.5 151.4 L560.3 150.7 L562.5 152.9 L563.2 156.4 L562.5 160.0 L563.9 164.3 L565.3 168.6 L566.1 170.7 L563.2 172.1 L559.6 173.6 L558.9 175.0 L561.8 175.7 L562.5 177.9 L565.3 180.0 L568.2 182.1 L571.1 185.7 L573.2 190.0 L573.9 195.7 L574.6 200.0 L573.9 204.3 L574.6 207.9 L572.5 210.7 L571.8 214.3 L569.6 216.4 L570.3 219.3 L568.9 221.4 L567.5 225.0 L565.3 225.0 L563.9 227.9 L562.5 230.7 L558.9 232.9 L556.8 235.0 L557.5 237.1 L555.3 239.3 L551.8 241.4 L547.5 243.6 L543.9 245.0 L540.3 245.0 L536.1 246.4 L531.8 246.4 L528.9 247.9 L525.3 247.1 L523.2 245.0 L521.1 246.4 L518.2 245.0 L515.3 243.6 L514.6 240.7 L516.8 237.1 L518.9 232.9 L517.5 229.3 L514.6 227.9 L516.1 225.0 L516.1 220.7 L514.6 217.1 L511.8 213.6 L507.5 210.7 L504.6 207.9 L501.8 204.3 L499.6 204.3 L498.2 207.1 L497.5 210.7 L495.7 213.6 L493.9 214.3 L491.8 215.7 L492.1 219.3 L492.5 222.1 L493.6 225.0 L492.8 227.1 L491.1 226.1 L489.6 223.6 L487.1 222.9 L485.3 224.3 L483.9 226.1 L481.8 224.6 L478.9 224.3 L476.4 223.2 L475.0 221.4 L475.3 218.6 L474.3 217.1 L472.8 218.2 L469.6 218.4 L467.1 218.6 L466.1 216.4 L465.3 213.9 L467.1 213.6 L468.9 212.5 L468.2 210.0 L466.1 209.6 L463.6 210.0 L464.6 207.9 L466.4 205.7 L465.0 203.6 L465.0 201.1 L463.6 200.4 L462.1 201.8 L460.3 201.4 L458.9 203.6 L457.5 201.4 L455.7 202.5 L455.3 199.3 L456.4 197.9 L457.5 194.3 L458.6 189.3 L458.9 185.0 L458.3 187.9 L458.6 183.9 L458.1 182.1 L454.6 176.4 L452.1 171.6 L450.0 169.3 L447.5 168.9 L445.0 169.3 L445.7 166.4 L443.9 163.6 L441.8 161.4 L440.7 159.3 L441.4 155.0 L442.1 150.7Z" fill="none" stroke="#000" stroke-width="0.9" stroke-linejoin="round"/>
<path d="M449.6 173.2 L451.8 172.5 L456.8 172.5 L460.3 173.6 L461.9 175.7 L461.9 180.1 L460.3 180.5 L458.3 182.1 L458.2 180.7 L460.0 178.6 L460.0 176.4 L458.6 174.6 L454.6 174.3 L450.3 174.3Z" fill="none" stroke="#000" stroke-width="0.8"/>
<path d="M454.6 174.6 L454.6 179.3 L456.8 179.6 L458.6 178.2 L458.6 175.0Z" fill="none" stroke="#000" stroke-width="0.6"/>
<path d="M450.7 177.5 L452.1 176.8 L452.8 178.6 L451.4 179.3Z" fill="none" stroke="#000" stroke-width="0.6"/>
<path d="M496.2 219.7 L497.6 219.0 L498.1 222.0 L496.6 222.9Z" fill="none" stroke="#000" stroke-width="0.6"/>
<path d="M437.5 150.0 L438.6 150.0 L438.3 155.0 L437.3 155.0Z" fill="#000" stroke="#000" stroke-width="0.5"/>
<path d="M445.2 133.1 L446.9 133.1 L446.9 134.3 L445.2 134.3Z" fill="#000" stroke="#000" stroke-width="0.5"/>
<path d="M411.7 152.9 L413.8 151.2 L413.4 155.4 L411.4 158.0Z" fill="#000" stroke="#000" stroke-width="0.5"/>
</g>
<circle cx="506.6" cy="193.2" r="101.9" fill="none" stroke="#333" stroke-width="0.7"/>
<clipPath id="clip3"><circle cx="349.7" cy="522.2" r="101.9"/></clipPath>
<g clip-path="url(#clip3)">
<rect x="245.79999999999998" y="418.30000000000007" width="207.8" height="207.8" fill="#b4ceff"/>
<path d="M245.0 507.0 L252.5 489.0 L266.0 484.5 L278.0 481.5 L287.0 489.0 L299.0 495.0 L309.5 492.0 L314.0 477.0 L323.0 471.0 L335.0 474.0 L338.0 462.0 L347.0 450.0 L359.0 445.5 L371.0 450.0 L377.0 459.0 L386.0 453.0 L395.0 462.0 L407.0 468.0 L416.0 483.0 L425.0 495.0 L437.0 507.0 L440.0 525.0 L435.5 543.0 L425.0 561.0 L416.0 573.0 L407.0 585.0 L389.0 594.0 L374.0 598.5 L359.0 597.0 L344.9 598.5 L319.4 581.4 L300.8 568.5 L280.7 558.3 L253.7 555.6 L245.0 553.5Z" fill="#d8ebff"/>
<path d="M257.9 539.9 C259.1 537.2 262.4 533.7 266.4 532.7 C270.5 531.8 279.3 532.5 282.1 534.1 C285.0 535.8 284.3 540.1 283.6 542.7 C282.9 545.3 280.7 548.4 277.9 549.9 C275.0 551.3 269.5 551.5 266.4 551.3 C263.3 551.1 260.7 550.3 259.3 548.4 C257.9 546.5 256.7 542.5 257.9 539.9Z" fill="#b4ceff"/>
<path d="M253.6 498.4 C254.0 496.3 258.6 494.9 260.7 495.6 C262.9 496.3 265.7 500.3 266.4 502.7 C267.1 505.1 266.4 508.9 265.0 509.9 C263.6 510.8 259.8 510.3 257.9 508.4 C256.0 506.5 253.1 500.6 253.6 498.4Z" fill="#b4ceff"/>
<path d="M256.4 485.6 C257.4 484.5 262.3 484.0 263.6 484.9 C264.9 485.7 265.2 489.5 264.3 490.6 C263.3 491.6 259.2 492.1 257.9 491.3 C256.6 490.5 255.5 486.6 256.4 485.6Z" fill="#b4ceff"/>
<path d="M307.9 552.0 C308.6 550.3 313.9 550.0 316.4 550.6 C318.9 551.2 322.1 553.8 322.9 555.6 C323.6 557.4 322.5 560.5 320.7 561.3 C318.9 562.1 314.3 562.1 312.1 560.6 C310.0 559.0 307.1 553.7 307.9 552.0Z" fill="#b4ceff"/>
<path d="M313.6 484.1 C314.5 482.0 318.8 479.9 320.7 479.9 C322.6 479.9 324.3 482.0 325.0 484.1 C325.7 486.3 326.0 490.6 325.0 492.7 C324.0 494.9 321.0 497.0 319.3 497.0 C317.6 497.0 316.0 494.9 315.0 492.7 C314.0 490.6 312.6 486.3 313.6 484.1Z" fill="#b4ceff"/>
<path d="M302.1 466.3 L309.3 468.4 L319.3 465.6 L330.7 459.9 L337.9 458.4 L345.0 459.9 L345.0 471.3 L337.9 474.1 L333.6 482.7 L330.7 491.3 L325.0 497.0 L316.4 497.0 L307.9 491.3 L302.1 484.1 L303.6 474.1Z" fill="#d8ebff"/>
<path d="M367.9 439.9 L379.3 438.4 L390.7 445.6 L392.1 459.9 L383.6 464.1 L373.6 465.6 L367.9 459.9Z" fill="#d8ebff"/>
<path d="M402.1 466.3 L412.1 464.1 L419.3 471.3 L418.6 484.1 L412.1 487.0 L407.9 479.9Z" fill="#d8ebff"/>
<path d="M412.1 487.0 L423.6 484.1 L435.0 487.0 L436.4 494.1 L426.4 497.0 L416.4 501.3 L410.0 495.6Z" fill="#d8ebff"/>
<path d="M415.0 545.6 L429.3 542.7 L436.4 555.6 L432.1 569.9 L422.1 575.6 L416.4 564.1Z" fill="#d8ebff"/>
<path d="M355.0 582.0 C356.4 579.4 361.0 579.5 363.6 579.9 C366.2 580.2 369.8 581.8 370.7 584.1 C371.7 586.5 371.0 591.8 369.3 594.1 C367.6 596.5 363.1 598.2 360.7 598.4 C358.3 598.7 356.0 598.3 355.0 595.6 C354.0 592.8 353.6 584.6 355.0 582.0Z" fill="#d8ebff"/>
<path d="M387.9 582.7 C389.3 580.6 395.5 580.1 397.9 581.3 C400.2 582.5 402.4 587.0 402.1 589.9 C401.9 592.7 398.6 597.7 396.4 598.4 C394.3 599.1 390.7 596.8 389.3 594.1 C387.9 591.5 386.4 584.9 387.9 582.7Z" fill="#d8ebff"/>
<path d="M282.9 477.0 L287.9 472.7 L293.6 469.9 L295.0 462.7 L293.6 457.0 L297.9 455.6 L302.1 459.9 L306.4 457.0 L305.0 451.3 L307.9 445.6 L305.0 439.9 L300.7 438.4 L305.0 435.6 L312.1 437.0 L316.4 431.3 L319.3 425.6 L325.0 424.1 L333.6 425.6 L337.9 431.3 L336.4 438.4 L337.9 445.6 L336.4 454.1 L330.7 458.4 L322.1 461.3 L313.6 464.1 L307.9 467.0 L303.6 472.7 L302.1 479.9 L300.7 487.0 L297.9 491.3 L293.6 491.3 L287.9 487.0 L284.3 482.7Z" fill="#82a6ff"/>
<path d="M315.0 429.0 L325.0 427.0 L335.0 433.0 L337.0 447.0 L335.0 459.0 L325.0 462.0 L315.0 460.0Z" fill="#82a6ff"/>
<path d="M345.0 429.0 C346.8 427.0 352.0 426.3 355.0 427.0 C358.0 427.7 361.5 430.0 363.0 433.0 C364.5 436.0 365.0 442.2 364.0 445.0 C363.0 447.8 359.7 449.5 357.0 450.0 C354.3 450.5 350.2 449.8 348.0 448.0 C345.8 446.2 344.5 442.2 344.0 439.0 C343.5 435.8 343.2 431.0 345.0 429.0Z" fill="#82a6ff"/>
<path d="M363.0 423.0 C364.2 420.8 369.2 421.0 371.0 422.0 C372.8 423.0 374.0 426.7 374.0 429.0 C374.0 431.3 372.7 435.0 371.0 436.0 C369.3 437.0 365.3 437.2 364.0 435.0 C362.7 432.8 361.8 425.2 363.0 423.0Z" fill="#82a6ff"/>
<path d="M379.3 450.6 C380.1 448.3 384.8 447.8 387.9 447.7 C391.0 447.6 396.1 448.2 397.9 449.9 C399.6 451.5 399.5 455.7 398.6 457.7 C397.6 459.7 394.8 461.4 392.1 462.0 C389.5 462.6 385.0 463.2 382.9 461.3 C380.7 459.4 378.5 452.8 379.3 450.6Z" fill="#82a6ff"/>
<path d="M391.4 434.1 C392.1 432.1 395.1 430.3 397.9 430.6 C400.6 430.8 405.4 433.3 407.9 435.6 C410.4 437.8 412.5 441.8 412.9 444.1 C413.2 446.5 412.0 449.0 410.0 449.9 C408.0 450.7 403.4 450.3 400.7 449.1 C398.0 447.9 395.1 445.2 393.6 442.7 C392.0 440.2 390.7 436.2 391.4 434.1Z" fill="#82a6ff"/>
<path d="M361.4 425.6 C362.1 423.7 365.1 422.0 367.1 422.0 C369.2 422.0 372.4 423.8 373.6 425.6 C374.8 427.4 375.1 430.9 374.3 432.7 C373.5 434.5 370.5 436.2 368.6 436.3 C366.7 436.4 364.1 435.2 362.9 433.4 C361.7 431.6 360.7 427.5 361.4 425.6Z" fill="#82a6ff"/>
<path d="M427.1 474.1 C428.1 472.7 431.0 471.1 432.9 471.3 C434.8 471.5 437.7 473.8 438.6 475.6 C439.4 477.4 439.1 480.7 437.9 482.0 C436.7 483.3 433.2 483.8 431.4 483.4 C429.6 483.1 427.9 481.4 427.1 479.9 C426.4 478.3 426.2 475.6 427.1 474.1Z" fill="#82a6ff"/>
<path d="M417.9 499.1 C418.9 497.4 422.6 495.9 425.0 496.3 C427.4 496.6 431.1 499.0 432.1 501.3 C433.2 503.6 432.9 508.1 431.4 509.9 C430.0 511.6 425.7 512.5 423.6 512.0 C421.4 511.5 419.5 509.1 418.6 507.0 C417.6 504.9 416.8 500.9 417.9 499.1Z" fill="#82a6ff"/>
<path d="M419.0 499.0 C420.5 497.2 424.8 495.3 427.0 496.0 C429.2 496.7 431.5 500.3 432.0 503.0 C432.5 505.7 431.7 510.3 430.0 512.0 C428.3 513.7 424.0 513.8 422.0 513.0 C420.0 512.2 418.5 509.3 418.0 507.0 C417.5 504.7 417.5 500.8 419.0 499.0Z" fill="#82a6ff"/>
<path d="M424.0 529.0 C424.8 527.3 430.3 526.8 432.0 528.0 C433.7 529.2 434.8 534.3 434.0 536.0 C433.2 537.7 428.7 539.2 427.0 538.0 C425.3 536.8 423.2 530.7 424.0 529.0Z" fill="#82a6ff"/>
<path d="M438.0 519.0 C439.3 517.7 446.2 517.0 448.0 518.0 C449.8 519.0 450.3 523.7 449.0 525.0 C447.7 526.3 441.8 527.0 440.0 526.0 C438.2 525.0 436.7 520.3 438.0 519.0Z" fill="#82a6ff"/>
<path d="M355.0 607.0 L363.6 604.1 L372.1 598.4 L379.3 594.1 L386.4 598.4 L392.1 595.6 L399.3 598.4 L402.1 607.0 L395.0 612.7 L383.6 618.4 L369.3 622.7 L355.0 625.6Z" fill="#82a6ff"/>
<path d="M377.9 583.4 C378.7 582.4 383.1 581.7 384.3 582.4 C385.5 583.1 386.1 586.7 385.3 587.7 C384.5 588.8 380.5 589.4 379.3 588.7 C378.1 588.0 377.0 584.5 377.9 583.4Z" fill="#82a6ff"/>
<path d="M405.0 574.9 C405.9 573.9 410.2 573.4 411.4 574.1 C412.7 574.9 413.3 578.6 412.4 579.6 C411.5 580.6 407.4 580.9 406.1 580.1 C404.9 579.4 404.1 575.9 405.0 574.9Z" fill="#82a6ff"/>
<path d="M273.6 574.1 L280.7 569.9 L287.9 568.4 L293.6 571.3 L300.7 572.7 L302.1 581.3 L306.4 584.1 L312.1 579.9 L313.6 587.0 L307.9 592.7 L305.0 598.4 L310.7 602.7 L319.3 604.1 L326.4 608.4 L327.9 614.1 L322.1 615.6 L313.6 612.7 L305.0 609.9 L299.3 607.0 L292.1 601.3 L285.0 594.1 L277.9 588.4 L273.6 581.3Z" fill="#82a6ff"/>
<path d="M335.0 607.0 L345.0 604.9 L353.6 607.0 L353.6 615.6 L336.4 616.3Z" fill="#82a6ff"/>
<path d="M260.7 543.4 C261.4 542.1 265.7 540.7 267.9 540.6 C270.0 540.5 272.9 541.5 273.6 542.7 C274.3 543.9 273.8 546.7 272.1 547.7 C270.5 548.7 265.5 549.4 263.6 548.7 C261.7 548.0 260.0 544.8 260.7 543.4Z" fill="#82a6ff"/>
<path d="M297.9 488.4 L302.1 484.1 L306.4 484.1 L312.1 489.9 L317.9 497.0 L322.1 502.7 L318.6 506.3 L313.6 503.4 L307.9 498.4 L302.1 493.4 L298.6 492.0Z" fill="#82a6ff"/>
<path d="M300.0 489.1 L305.0 487.0 L310.7 492.7 L316.4 499.9 L318.6 503.4 L315.0 502.7 L309.3 497.7 L303.6 492.7Z" fill="#4678ff"/>
<path d="M285.7 477.0 C286.2 475.1 288.9 475.1 290.7 474.1 C292.5 473.2 294.5 471.3 296.4 471.3 C298.3 471.3 301.4 472.5 302.1 474.1 C302.9 475.8 301.4 478.9 300.7 481.3 C300.0 483.7 299.1 486.9 297.9 488.4 C296.7 490.0 295.2 491.0 293.6 490.6 C291.9 490.1 289.2 487.8 287.9 485.6 C286.6 483.3 285.2 478.9 285.7 477.0Z" fill="#4678ff"/>
<path d="M295.0 459.9 L302.1 464.1 L309.3 464.1 L316.4 461.3 L325.0 458.4 L333.6 455.6 L335.0 449.9 L330.7 444.1 L325.0 442.7 L319.3 445.6 L313.6 449.9 L307.9 452.7 L306.4 458.4 L302.1 461.3 L297.9 457.0Z" fill="#4678ff"/>
<path d="M316.4 431.3 C317.1 429.4 319.8 427.6 322.1 427.0 C324.5 426.4 328.8 426.5 330.7 427.7 C332.6 428.9 334.0 432.4 333.6 434.1 C333.1 435.9 329.8 438.0 327.9 438.4 C326.0 438.9 323.8 437.0 322.1 437.0 C320.5 437.0 318.8 439.4 317.9 438.4 C316.9 437.5 315.7 433.2 316.4 431.3Z" fill="#4678ff"/>
<path d="M321.0 439.0 C322.3 436.3 326.7 436.3 329.0 437.0 C331.3 437.7 334.2 440.0 335.0 443.0 C335.8 446.0 335.3 452.5 334.0 455.0 C332.7 457.5 329.2 458.3 327.0 458.0 C324.8 457.7 322.0 456.2 321.0 453.0 C320.0 449.8 319.7 441.7 321.0 439.0Z" fill="#4678ff"/>
<path d="M349.0 440.0 C349.7 438.5 354.8 438.3 357.0 438.6 C359.2 438.9 361.3 440.7 362.0 442.0 C362.7 443.3 362.5 445.7 361.0 446.6 C359.5 447.5 355.0 448.5 353.0 447.4 C351.0 446.3 348.3 441.5 349.0 440.0Z" fill="#4678ff"/>
<path d="M364.6 425.0 C365.4 423.6 368.8 423.3 370.0 424.0 C371.2 424.7 372.1 427.3 372.0 429.0 C371.9 430.7 370.6 433.4 369.4 434.0 C368.2 434.6 365.8 434.1 365.0 432.6 C364.2 431.1 363.8 426.4 364.6 425.0Z" fill="#4678ff"/>
<path d="M382.1 451.3 C383.1 449.7 386.9 449.6 389.3 449.6 C391.7 449.6 395.2 450.1 396.4 451.3 C397.7 452.5 397.7 455.5 396.7 457.0 C395.8 458.5 392.9 459.8 390.7 460.1 C388.5 460.5 385.0 460.6 383.6 459.1 C382.1 457.7 381.2 452.9 382.1 451.3Z" fill="#4678ff"/>
<path d="M392.9 434.9 C393.5 433.3 396.3 432.1 398.6 432.4 C400.8 432.8 404.4 435.0 406.4 437.0 C408.5 439.0 410.4 442.2 410.7 444.1 C411.1 446.0 410.1 447.9 408.6 448.4 C407.0 449.0 403.7 448.4 401.4 447.3 C399.2 446.2 396.4 444.1 395.0 442.0 C393.6 439.9 392.3 436.5 392.9 434.9Z" fill="#4678ff"/>
<path d="M363.6 426.3 C364.1 424.9 366.4 423.8 367.9 423.9 C369.3 423.9 371.4 425.4 372.1 426.7 C372.9 428.1 373.1 430.7 372.4 432.0 C371.8 433.3 369.5 434.4 368.1 434.4 C366.8 434.4 365.2 433.4 364.4 432.0 C363.7 430.6 363.0 427.6 363.6 426.3Z" fill="#4678ff"/>
<path d="M430.0 474.9 C430.3 473.7 432.5 473.6 433.6 473.9 C434.7 474.2 436.3 475.6 436.7 476.7 C437.1 477.8 436.7 479.9 435.9 480.6 C435.1 481.3 432.8 482.0 431.9 481.0 C430.9 480.0 429.7 476.1 430.0 474.9Z" fill="#4678ff"/>
<path d="M421.4 500.6 C421.7 498.7 424.3 498.1 425.7 498.4 C427.1 498.7 429.4 500.8 430.0 502.4 C430.6 504.1 430.2 507.2 429.3 508.4 C428.3 509.7 425.6 511.2 424.3 509.9 C423.0 508.6 421.2 502.5 421.4 500.6Z" fill="#4678ff"/>
<path d="M422.0 501.4 C422.7 499.7 425.7 498.8 427.0 499.4 C428.3 500.0 429.8 503.2 430.0 505.0 C430.2 506.8 429.2 509.3 428.0 510.0 C426.8 510.7 424.0 510.8 423.0 509.4 C422.0 508.0 421.3 503.1 422.0 501.4Z" fill="#4678ff"/>
<path d="M426.0 530.6 C426.6 529.6 430.0 529.3 431.0 530.0 C432.0 530.7 432.6 534.0 432.0 535.0 C431.4 536.0 428.4 536.5 427.4 535.8 C426.4 535.1 425.4 531.6 426.0 530.6Z" fill="#4678ff"/>
<path d="M278.6 583.4 L285.0 579.1 L286.4 581.0 L280.0 585.6Z" fill="#4678ff"/>
<path d="M289.3 595.6 L295.0 596.3 L294.3 601.3 L290.7 601.0Z" fill="#4678ff"/>
<path d="M287.9 477.0 C288.5 475.2 291.9 474.9 293.6 474.9 C295.2 474.9 297.0 475.5 297.9 477.0 C298.7 478.5 299.0 482.2 298.6 484.1 C298.1 486.0 296.4 488.2 295.0 488.4 C293.6 488.7 291.2 487.5 290.0 485.6 C288.8 483.7 287.3 478.8 287.9 477.0Z" fill="#1a50ff"/>
<path d="M319.3 446.3 C320.6 445.2 322.9 443.9 325.0 443.9 C327.1 443.8 330.4 444.7 331.9 445.9 C333.3 447.1 334.3 449.6 333.9 451.0 C333.4 452.4 331.2 454.1 329.3 454.4 C327.3 454.7 324.2 453.4 322.1 452.7 C320.1 452.1 317.6 451.6 317.1 450.6 C316.7 449.5 318.0 447.4 319.3 446.3Z" fill="#1a50ff"/>
<path d="M385.0 452.0 C385.4 450.9 389.2 450.8 390.7 451.0 C392.2 451.2 393.4 452.5 393.9 453.4 C394.3 454.4 394.2 456.0 393.3 456.7 C392.3 457.4 389.5 458.5 388.1 457.7 C386.8 456.9 384.6 453.1 385.0 452.0Z" fill="#1a50ff"/>
<path d="M394.3 434.9 C394.6 433.6 397.3 433.3 398.6 433.9 C399.9 434.5 401.7 437.0 402.1 438.4 C402.5 439.9 401.9 442.2 401.0 442.7 C400.1 443.2 397.8 442.9 396.7 441.6 C395.6 440.3 394.0 436.1 394.3 434.9Z" fill="#1a50ff"/>
<path d="M365.7 426.3 C366.2 425.3 369.1 424.9 370.0 425.6 C370.9 426.3 371.5 429.6 371.0 430.6 C370.5 431.6 368.0 432.3 367.1 431.6 C366.3 430.9 365.2 427.3 365.7 426.3Z" fill="#1a50ff"/>
<path d="M324.0 442.0 C324.7 440.0 329.6 439.7 331.0 441.0 C332.4 442.3 333.3 448.0 332.6 450.0 C331.9 452.0 328.4 454.3 327.0 453.0 C325.6 451.7 323.3 444.0 324.0 442.0Z" fill="#1a50ff"/>
<path d="M285.0 526.0 L290.0 524.0 L292.0 533.0 L299.0 537.0 L305.0 541.0 L309.0 547.0 L305.0 553.0 L299.0 557.0 L291.0 556.0 L288.0 551.0 L291.0 545.0 L285.0 543.0 L284.0 535.0Z" fill="#ffe8d8"/>
<path d="M333.0 560.0 L341.0 557.0 L353.0 556.0 L357.0 563.0 L357.0 573.0 L354.0 583.0 L349.0 588.0 L345.0 581.0 L341.0 573.0 L335.0 567.0Z" fill="#ffe8d8"/>
<path d="M321.0 563.0 L329.0 560.0 L333.0 567.0 L327.0 571.0 L322.0 569.0Z" fill="#ffe8d8"/>
<path d="M302.0 562.0 L307.0 562.0 L307.0 566.0 L302.0 566.0Z" fill="#ffe8d8"/>
<path d="M309.0 567.0 L313.0 567.0 L313.0 571.0 L309.0 571.0Z" fill="#ffe8d8"/>
<path d="M310.7 472.0 C311.3 470.9 314.6 470.0 315.7 470.6 C316.8 471.2 317.7 474.5 317.1 475.6 C316.5 476.6 313.2 477.6 312.1 477.0 C311.1 476.4 310.1 473.1 310.7 472.0Z" fill="#ffe8d8"/>
<path d="M322.9 466.3 C323.3 465.0 326.3 463.9 327.1 464.9 C328.0 465.8 328.6 470.7 328.1 472.0 C327.7 473.3 325.2 473.7 324.3 472.7 C323.4 471.8 322.4 467.6 322.9 466.3Z" fill="#ffe8d8"/>
<path d="M367.9 445.6 L374.3 444.9 L375.0 450.6 L369.3 451.3Z" fill="#ffe8d8"/>
<path d="M357.9 452.7 L361.9 452.7 L361.9 461.3 L358.1 461.3Z" fill="#ffe8d8"/>
<path d="M279.3 489.9 L284.3 491.3 L285.0 497.0 L280.7 496.3Z" fill="#ffe8d8"/>
<path d="M280.7 499.1 L285.0 499.9 L284.3 503.4 L280.0 502.7Z" fill="#ffe8d8"/>
<path d="M276.5 489.5 C277.3 488.2 280.9 487.1 283.0 487.5 C285.1 487.9 287.7 490.0 289.0 492.0 C290.3 494.0 291.8 498.4 291.0 499.5 C290.2 500.6 286.2 499.2 284.0 498.5 C281.8 497.8 279.2 496.5 278.0 495.0 C276.8 493.5 275.7 490.8 276.5 489.5Z" fill="#ffcdb4"/>
<path d="M279.0 490.5 C279.6 489.8 282.0 489.2 283.5 489.5 C285.0 489.8 287.0 491.2 288.0 492.5 C289.0 493.8 290.2 496.8 289.5 497.5 C288.8 498.2 285.6 497.1 284.0 496.5 C282.4 495.9 280.8 495.0 280.0 494.0 C279.2 493.0 278.4 491.2 279.0 490.5Z" fill="#ff7846"/>
<path d="M249.3 525.7 C250.6 523.8 255.2 523.6 257.9 524.3 C260.5 525.0 264.0 527.9 265.0 530.0 C266.0 532.1 265.0 535.5 263.6 537.1 C262.1 538.8 258.7 540.2 256.4 540.0 C254.2 539.8 251.2 538.1 250.0 535.7 C248.8 533.3 248.0 527.6 249.3 525.7Z" fill="#b4ceff"/>
<path d="M258.1 520.3 C259.2 519.6 263.6 519.4 264.7 520.0 C265.9 520.6 266.0 523.3 265.0 524.0 C264.0 524.7 259.7 524.9 258.6 524.3 C257.4 523.7 257.1 521.0 258.1 520.3Z" fill="#b4ceff"/>
<path d="M264.3 542.9 C265.0 541.7 268.5 541.2 270.0 541.4 C271.5 541.7 273.2 543.1 273.6 544.3 C273.9 545.4 273.4 547.6 272.1 548.3 C270.8 549.0 267.0 549.5 265.7 548.6 C264.4 547.7 263.6 544.1 264.3 542.9Z" fill="#82a6ff"/>
<path d="M335.6 474.0 L339.2 469.7 L341.3 467.9 L342.7 469.3 L344.9 467.6 L347.0 466.1 L348.4 468.3 L350.6 467.6 L354.2 465.7 L359.2 464.7 L364.9 466.1 L369.9 467.9 L376.3 470.4 L382.7 472.6 L384.2 471.1 L384.9 476.1 L389.2 476.9 L393.4 476.1 L398.4 479.0 L400.6 480.4 L403.4 479.7 L405.6 481.9 L406.3 485.4 L405.6 489.0 L407.0 493.3" fill="none" stroke="#ffe8d8" stroke-width="13.5" stroke-linejoin="round" stroke-linecap="round"/>
<path d="M407.0 493.3 L408.4 497.6 L409.2 499.7 L406.3 501.1 L402.7 502.6 L402.0 504.0 L404.9 504.7 L405.6 506.9 L408.4 509.0 L411.3 511.1 L414.2 514.7 L416.3 519.0 L417.0 524.7 L417.7 529.0 L417.0 533.3 L417.7 536.9 L415.6 539.7 L414.9 543.3 L412.7 545.4 L413.4 548.3 L412.0 550.4 L410.6 554.0 L408.4 554.0 L407.0 556.9 L405.6 559.7 L402.0 561.9 L399.9 564.0 L400.6 566.1 L398.4 568.3 L394.9 570.4" fill="none" stroke="#ffcdb4" stroke-width="16.5" stroke-linejoin="round" stroke-linecap="round"/>
<path d="M405.6 559.7 L402.0 561.9 L399.9 564.0 L400.6 566.1 L398.4 568.3 L394.9 570.4 L390.6 572.6 L387.0 574.0 L383.4 574.0 L379.2 575.4 L374.9 575.4 L372.0 576.9 L368.4 576.1 L366.3 574.0 L364.2 575.4 L361.3 574.0 L358.4 572.6 L357.7 569.7 L359.9 566.1 L362.0 561.9 L360.6 558.3 L357.7 556.9" fill="none" stroke="#ffcdb4" stroke-width="12" stroke-linejoin="round" stroke-linecap="round"/>
<path d="M335.6 474.0 L339.2 469.7 L341.3 467.9 L342.7 469.3 L344.9 467.6 L347.0 466.1 L348.4 468.3 L350.6 467.6 L354.2 465.7 L359.2 464.7 L364.9 466.1 L369.9 467.9 L376.3 470.4 L382.7 472.6 L384.2 471.1 L384.9 476.1 L389.2 476.9 L393.4 476.1 L398.4 479.0 L400.6 480.4 L403.4 479.7 L405.6 481.9 L406.3 485.4 L405.6 489.0 L407.0 493.3" fill="none" stroke="#ffcdb4" stroke-width="11.5" stroke-linejoin="round" stroke-linecap="round"/>
<path d="M294.9 495.4 L297.0 494.4 L300.6 495.4 L304.9 496.9 L309.2 498.6 L312.0 501.1 L314.2 504.0 L315.6 507.6 L317.7 504.0 L320.6 501.9 L324.9 500.4 L328.9 497.3 L329.9 493.3 L330.6 487.6 L332.3 481.1 L335.6 474.0 L339.2 469.7 L341.3 467.9 L342.7 469.3 L344.9 467.6 L347.0 466.1 L348.4 468.3 L350.6 467.6 L354.2 465.7 L359.2 464.7 L364.9 466.1 L369.9 467.9 L376.3 470.4 L382.7 472.6 L384.2 471.1 L384.9 476.1 L389.2 476.9 L393.4 476.1 L398.4 479.0 L400.6 480.4 L403.4 479.7 L405.6 481.9 L406.3 485.4 L405.6 489.0 L407.0 493.3 L408.4 497.6 L409.2 499.7 L406.3 501.1 L402.7 502.6 L402.0 504.0 L404.9 504.7 L405.6 506.9 L408.4 509.0 L411.3 511.1 L414.2 514.7 L416.3 519.0 L417.0 524.7 L417.7 529.0 L417.0 533.3 L417.7 536.9 L415.6 539.7 L414.9 543.3 L412.7 545.4 L413.4 548.3 L412.0 550.4 L410.6 554.0 L408.4 554.0 L407.0 556.9 L405.6 559.7 L402.0 561.9 L399.9 564.0 L400.6 566.1 L398.4 568.3 L394.9 570.4 L390.6 572.6 L387.0 574.0 L383.4 574.0 L379.2 575.4 L374.9 575.4 L372.0 576.9 L368.4 576.1 L366.3 574.0 L364.2 575.4 L361.3 574.0 L358.4 572.6 L357.7 569.7 L359.9 566.1 L362.0 561.9 L360.6 558.3 L357.7 556.9 L359.2 554.0 L359.2 549.7 L357.7 546.1 L354.9 542.6 L350.6 539.7 L347.7 536.9 L344.9 533.3 L342.7 533.3 L341.3 536.1 L340.6 539.7 L338.8 542.6 L337.0 543.3 L334.9 544.7 L335.2 548.3 L335.6 551.1 L336.7 554.0 L335.9 556.1 L334.2 555.1 L332.7 552.6 L330.2 551.9 L328.4 553.3 L327.0 555.1 L324.9 553.6 L322.0 553.3 L319.5 552.2 L318.1 550.4 L318.4 547.6 L317.4 546.1 L315.9 547.2 L312.7 547.4 L310.2 547.6 L309.2 545.4 L308.4 542.9 L310.2 542.6 L312.0 541.5 L311.3 539.0 L309.2 538.6 L306.7 539.0 L307.7 536.9 L309.5 534.7 L308.1 532.6 L308.1 530.1 L306.7 529.4 L305.2 530.8 L303.4 530.4 L302.0 532.6 L300.6 530.4 L298.8 531.5 L298.4 528.3 L299.5 526.9 L300.6 523.3 L301.7 518.3 L302.0 514.0 L301.4 516.9 L301.7 512.9 L301.2 511.1 L297.7 505.4 L295.2 500.6 L293.1 498.3" fill="none" stroke="#ffcdb4" stroke-width="8.0" stroke-linejoin="round" stroke-linecap="round"/>
<path d="M287.2 483.6 L287.9 487.6 L290.6 491.1 L292.9 494.6 L294.9 495.4" fill="none" stroke="#ffcdb4" stroke-width="4.5" stroke-linejoin="round" stroke-linecap="round"/>
<path d="M293.1 498.3 L290.6 497.9 L288.1 498.3 L288.8 495.4 L287.0 492.6 L284.9 490.4" fill="none" stroke="#ffcdb4" stroke-width="4.5" stroke-linejoin="round" stroke-linecap="round"/>
<path d="M335.6 474.0 L339.2 469.7 L341.3 467.9 L342.7 469.3 L344.9 467.6 L347.0 466.1 L348.4 468.3 L350.6 467.6 L354.2 465.7 L359.2 464.7 L364.9 466.1 L369.9 467.9 L376.3 470.4 L382.7 472.6 L384.2 471.1 L384.9 476.1 L389.2 476.9 L393.4 476.1 L398.4 479.0 L400.6 480.4 L403.4 479.7 L405.6 481.9 L406.3 485.4 L405.6 489.0 L407.0 493.3" fill="none" stroke="#ffa882" stroke-width="9.5" stroke-linejoin="round" stroke-linecap="round"/>
<path d="M407.0 493.3 L408.4 497.6 L409.2 499.7 L406.3 501.1 L402.7 502.6 L402.0 504.0 L404.9 504.7 L405.6 506.9 L408.4 509.0 L411.3 511.1 L414.2 514.7 L416.3 519.0 L417.0 524.7 L417.7 529.0 L417.0 533.3 L417.7 536.9 L415.6 539.7 L414.9 543.3 L412.7 545.4 L413.4 548.3 L412.0 550.4 L410.6 554.0 L408.4 554.0 L407.0 556.9 L405.6 559.7 L402.0 561.9 L399.9 564.0 L400.6 566.1 L398.4 568.3 L394.9 570.4" fill="none" stroke="#ff7846" stroke-width="14.5" stroke-linejoin="round" stroke-linecap="round"/>
<path d="M405.6 559.7 L402.0 561.9 L399.9 564.0 L400.6 566.1 L398.4 568.3 L394.9 570.4 L390.6 572.6 L387.0 574.0 L383.4 574.0 L379.2 575.4 L374.9 575.4 L372.0 576.9 L368.4 576.1 L366.3 574.0 L364.2 575.4 L361.3 574.0 L358.4 572.6 L357.7 569.7 L359.9 566.1 L362.0 561.9 L360.6 558.3 L357.7 556.9" fill="none" stroke="#ff7846" stroke-width="10" stroke-linejoin="round" stroke-linecap="round"/>
<path d="M335.6 474.0 L339.2 469.7 L341.3 467.9 L342.7 469.3 L344.9 467.6 L347.0 466.1 L348.4 468.3 L350.6 467.6 L354.2 465.7 L359.2 464.7 L364.9 466.1 L369.9 467.9 L376.3 470.4 L382.7 472.6 L384.2 471.1 L384.9 476.1 L389.2 476.9 L393.4 476.1 L398.4 479.0 L400.6 480.4 L403.4 479.7 L405.6 481.9 L406.3 485.4 L405.6 489.0 L407.0 493.3" fill="none" stroke="#ff7846" stroke-width="8" stroke-linejoin="round" stroke-linecap="round"/>
<path d="M294.9 495.4 L297.0 494.4 L300.6 495.4 L304.9 496.9 L309.2 498.6 L312.0 501.1 L314.2 504.0 L315.6 507.6 L317.7 504.0 L320.6 501.9 L324.9 500.4 L328.9 497.3 L329.9 493.3 L330.6 487.6 L332.3 481.1 L335.6 474.0 L339.2 469.7 L341.3 467.9 L342.7 469.3 L344.9 467.6 L347.0 466.1 L348.4 468.3 L350.6 467.6 L354.2 465.7 L359.2 464.7 L364.9 466.1 L369.9 467.9 L376.3 470.4 L382.7 472.6 L384.2 471.1 L384.9 476.1 L389.2 476.9 L393.4 476.1 L398.4 479.0 L400.6 480.4 L403.4 479.7 L405.6 481.9 L406.3 485.4 L405.6 489.0 L407.0 493.3 L408.4 497.6 L409.2 499.7 L406.3 501.1 L402.7 502.6 L402.0 504.0 L404.9 504.7 L405.6 506.9 L408.4 509.0 L411.3 511.1 L414.2 514.7 L416.3 519.0 L417.0 524.7 L417.7 529.0 L417.0 533.3 L417.7 536.9 L415.6 539.7 L414.9 543.3 L412.7 545.4 L413.4 548.3 L412.0 550.4 L410.6 554.0 L408.4 554.0 L407.0 556.9 L405.6 559.7 L402.0 561.9 L399.9 564.0 L400.6 566.1 L398.4 568.3 L394.9 570.4 L390.6 572.6 L387.0 574.0 L383.4 574.0 L379.2 575.4 L374.9 575.4 L372.0 576.9 L368.4 576.1 L366.3 574.0 L364.2 575.4 L361.3 574.0 L358.4 572.6 L357.7 569.7 L359.9 566.1 L362.0 561.9 L360.6 558.3 L357.7 556.9 L359.2 554.0 L359.2 549.7 L357.7 546.1 L354.9 542.6 L350.6 539.7 L347.7 536.9 L344.9 533.3 L342.7 533.3 L341.3 536.1 L340.6 539.7 L338.8 542.6 L337.0 543.3 L334.9 544.7 L335.2 548.3 L335.6 551.1 L336.7 554.0 L335.9 556.1 L334.2 555.1 L332.7 552.6 L330.2 551.9 L328.4 553.3 L327.0 555.1 L324.9 553.6 L322.0 553.3 L319.5 552.2 L318.1 550.4 L318.4 547.6 L317.4 546.1 L315.9 547.2 L312.7 547.4 L310.2 547.6 L309.2 545.4 L308.4 542.9 L310.2 542.6 L312.0 541.5 L311.3 539.0 L309.2 538.6 L306.7 539.0 L307.7 536.9 L309.5 534.7 L308.1 532.6 L308.1 530.1 L306.7 529.4 L305.2 530.8 L303.4 530.4 L302.0 532.6 L300.6 530.4 L298.8 531.5 L298.4 528.3 L299.5 526.9 L300.6 523.3 L301.7 518.3 L302.0 514.0 L301.4 516.9 L301.7 512.9 L301.2 511.1 L297.7 505.4 L295.2 500.6 L293.1 498.3" fill="none" stroke="#ff7846" stroke-width="6.2" stroke-linejoin="round" stroke-linecap="round"/>
<path d="M407.0 493.3 L408.4 497.6 L409.2 499.7 L406.3 501.1 L402.7 502.6 L402.0 504.0 L404.9 504.7 L405.6 506.9 L408.4 509.0 L411.3 511.1 L414.2 514.7 L416.3 519.0 L417.0 524.7 L417.7 529.0 L417.0 533.3 L417.7 536.9 L415.6 539.7 L414.9 543.3 L412.7 545.4 L413.4 548.3 L412.0 550.4 L410.6 554.0 L408.4 554.0 L407.0 556.9 L405.6 559.7 L402.0 561.9 L399.9 564.0 L400.6 566.1 L398.4 568.3 L394.9 570.4" fill="none" stroke="#ff501a" stroke-width="12.5" stroke-linejoin="round" stroke-linecap="round"/>
<path d="M405.6 559.7 L402.0 561.9 L399.9 564.0 L400.6 566.1 L398.4 568.3 L394.9 570.4 L390.6 572.6 L387.0 574.0 L383.4 574.0 L379.2 575.4 L374.9 575.4 L372.0 576.9 L368.4 576.1 L366.3 574.0 L364.2 575.4 L361.3 574.0 L358.4 572.6 L357.7 569.7 L359.9 566.1 L362.0 561.9 L360.6 558.3 L357.7 556.9" fill="none" stroke="#ff501a" stroke-width="8.5" stroke-linejoin="round" stroke-linecap="round"/>
<path d="M335.6 474.0 L339.2 469.7 L341.3 467.9 L342.7 469.3 L344.9 467.6 L347.0 466.1 L348.4 468.3 L350.6 467.6 L354.2 465.7 L359.2 464.7 L364.9 466.1 L369.9 467.9 L376.3 470.4 L382.7 472.6 L384.2 471.1 L384.9 476.1 L389.2 476.9 L393.4 476.1 L398.4 479.0 L400.6 480.4 L403.4 479.7 L405.6 481.9 L406.3 485.4 L405.6 489.0 L407.0 493.3" fill="none" stroke="#ff501a" stroke-width="6.5" stroke-linejoin="round" stroke-linecap="round"/>
<path d="M294.9 495.4 L297.0 494.4 L300.6 495.4 L304.9 496.9 L309.2 498.6 L312.0 501.1 L314.2 504.0 L315.6 507.6 L317.7 504.0 L320.6 501.9 L324.9 500.4 L328.9 497.3 L329.9 493.3 L330.6 487.6 L332.3 481.1 L335.6 474.0 L339.2 469.7 L341.3 467.9 L342.7 469.3 L344.9 467.6 L347.0 466.1 L348.4 468.3 L350.6 467.6 L354.2 465.7 L359.2 464.7 L364.9 466.1 L369.9 467.9 L376.3 470.4 L382.7 472.6 L384.2 471.1 L384.9 476.1 L389.2 476.9 L393.4 476.1 L398.4 479.0 L400.6 480.4 L403.4 479.7 L405.6 481.9 L406.3 485.4 L405.6 489.0 L407.0 493.3 L408.4 497.6 L409.2 499.7 L406.3 501.1 L402.7 502.6 L402.0 504.0 L404.9 504.7 L405.6 506.9 L408.4 509.0 L411.3 511.1 L414.2 514.7 L416.3 519.0 L417.0 524.7 L417.7 529.0 L417.0 533.3 L417.7 536.9 L415.6 539.7 L414.9 543.3 L412.7 545.4 L413.4 548.3 L412.0 550.4 L410.6 554.0 L408.4 554.0 L407.0 556.9 L405.6 559.7 L402.0 561.9 L399.9 564.0 L400.6 566.1 L398.4 568.3 L394.9 570.4 L390.6 572.6 L387.0 574.0 L383.4 574.0 L379.2 575.4 L374.9 575.4 L372.0 576.9 L368.4 576.1 L366.3 574.0 L364.2 575.4 L361.3 574.0 L358.4 572.6 L357.7 569.7 L359.9 566.1 L362.0 561.9 L360.6 558.3 L357.7 556.9 L359.2 554.0 L359.2 549.7 L357.7 546.1 L354.9 542.6 L350.6 539.7 L347.7 536.9 L344.9 533.3 L342.7 533.3 L341.3 536.1 L340.6 539.7 L338.8 542.6 L337.0 543.3 L334.9 544.7 L335.2 548.3 L335.6 551.1 L336.7 554.0 L335.9 556.1 L334.2 555.1 L332.7 552.6 L330.2 551.9 L328.4 553.3 L327.0 555.1 L324.9 553.6 L322.0 553.3 L319.5 552.2 L318.1 550.4 L318.4 547.6 L317.4 546.1 L315.9 547.2 L312.7 547.4 L310.2 547.6 L309.2 545.4 L308.4 542.9 L310.2 542.6 L312.0 541.5 L311.3 539.0 L309.2 538.6 L306.7 539.0 L307.7 536.9 L309.5 534.7 L308.1 532.6 L308.1 530.1 L306.7 529.4 L305.2 530.8 L303.4 530.4 L302.0 532.6 L300.6 530.4 L298.8 531.5 L298.4 528.3 L299.5 526.9 L300.6 523.3 L301.7 518.3 L302.0 514.0 L301.4 516.9 L301.7 512.9 L301.2 511.1 L297.7 505.4 L295.2 500.6 L293.1 498.3" fill="none" stroke="#ff501a" stroke-width="4.8" stroke-linejoin="round" stroke-linecap="round"/>
<path d="M287.2 483.6 L287.9 487.6 L290.6 491.1 L292.9 494.6 L294.9 495.4" fill="none" stroke="#ff501a" stroke-width="3.0" stroke-linejoin="round" stroke-linecap="round"/>
<path d="M293.1 498.3 L290.6 497.9 L288.1 498.3 L288.8 495.4 L287.0 492.6 L284.9 490.4" fill="none" stroke="#ff501a" stroke-width="3.0" stroke-linejoin="round" stroke-linecap="round"/>
<path d="M342.1 533.6 L348.6 537.1 L354.7 542.6 L358.1 548.6 L359.6 555.0 L358.6 557.4 L353.6 557.4 L353.3 554.3 L341.4 554.0 L339.6 550.0 L336.1 551.4 L333.9 546.4 L337.9 542.9 L340.0 537.9Z" fill="#fff"/>
<path d="M339.3 550.7 L353.6 551.4 L353.6 555.0 L339.3 554.3Z" fill="#82a6ff"/>
<path d="M340.0 551.4 L350.0 552.1 L350.0 553.6 L340.0 553.1Z" fill="#4678ff"/>
<path d="M401.4 559.6 L405.0 559.1 L419.3 568.4 L420.0 571.6 L412.1 569.9Z" fill="#82a6ff"/>
<path d="M402.1 560.1 L405.3 560.1 L415.0 567.0 L412.9 567.7Z" fill="#1a50ff"/>
<clipPath id="cont3"><path d="M286.3 478.3 L287.2 481.1 L287.2 483.6 L287.9 487.6 L290.6 491.1 L292.9 494.6 L294.9 495.4 L297.0 494.4 L300.6 495.4 L304.9 496.9 L309.2 498.6 L312.0 501.1 L314.2 504.0 L315.6 507.6 L317.7 504.0 L320.6 501.9 L324.9 500.4 L328.9 497.3 L329.9 493.3 L330.6 487.6 L332.3 481.1 L335.6 474.0 L339.2 469.7 L341.3 467.9 L342.7 469.3 L344.9 467.6 L347.0 466.1 L348.4 468.3 L350.6 467.6 L354.2 465.7 L359.2 464.7 L364.9 466.1 L369.9 467.9 L376.3 470.4 L382.7 472.6 L384.2 471.1 L384.9 476.1 L389.2 476.9 L393.4 476.1 L398.4 479.0 L400.6 480.4 L403.4 479.7 L405.6 481.9 L406.3 485.4 L405.6 489.0 L407.0 493.3 L408.4 497.6 L409.2 499.7 L406.3 501.1 L402.7 502.6 L402.0 504.0 L404.9 504.7 L405.6 506.9 L408.4 509.0 L411.3 511.1 L414.2 514.7 L416.3 519.0 L417.0 524.7 L417.7 529.0 L417.0 533.3 L417.7 536.9 L415.6 539.7 L414.9 543.3 L412.7 545.4 L413.4 548.3 L412.0 550.4 L410.6 554.0 L408.4 554.0 L407.0 556.9 L405.6 559.7 L402.0 561.9 L399.9 564.0 L400.6 566.1 L398.4 568.3 L394.9 570.4 L390.6 572.6 L387.0 574.0 L383.4 574.0 L379.2 575.4 L374.9 575.4 L372.0 576.9 L368.4 576.1 L366.3 574.0 L364.2 575.4 L361.3 574.0 L358.4 572.6 L357.7 569.7 L359.9 566.1 L362.0 561.9 L360.6 558.3 L357.7 556.9 L359.2 554.0 L359.2 549.7 L357.7 546.1 L354.9 542.6 L350.6 539.7 L347.7 536.9 L344.9 533.3 L342.7 533.3 L341.3 536.1 L340.6 539.7 L338.8 542.6 L337.0 543.3 L334.9 544.7 L335.2 548.3 L335.6 551.1 L336.7 554.0 L335.9 556.1 L334.2 555.1 L332.7 552.6 L330.2 551.9 L328.4 553.3 L327.0 555.1 L324.9 553.6 L322.0 553.3 L319.5 552.2 L318.1 550.4 L318.4 547.6 L317.4 546.1 L315.9 547.2 L312.7 547.4 L310.2 547.6 L309.2 545.4 L308.4 542.9 L310.2 542.6 L312.0 541.5 L311.3 539.0 L309.2 538.6 L306.7 539.0 L307.7 536.9 L309.5 534.7 L308.1 532.6 L308.1 530.1 L306.7 529.4 L305.2 530.8 L303.4 530.4 L302.0 532.6 L300.6 530.4 L298.8 531.5 L298.4 528.3 L299.5 526.9 L300.6 523.3 L301.7 518.3 L302.0 514.0 L301.4 516.9 L301.7 512.9 L301.2 511.1 L297.7 505.4 L295.2 500.6 L293.1 498.3 L290.6 497.9 L288.1 498.3 L288.8 495.4 L287.0 492.6 L284.9 490.4 L283.8 488.3 L284.5 484.0 L285.2 479.7Z"/></clipPath>
<g clip-path="url(#cont3)">
<path d="M286.3 478.3 L287.2 481.1 L287.2 483.6 L287.9 487.6 L290.6 491.1 L292.9 494.6 L294.9 495.4 L297.0 494.4 L300.6 495.4 L304.9 496.9 L309.2 498.6 L312.0 501.1 L314.2 504.0 L315.6 507.6 L317.7 504.0 L320.6 501.9 L324.9 500.4 L328.9 497.3 L329.9 493.3 L330.6 487.6 L332.3 481.1 L335.6 474.0 L339.2 469.7 L341.3 467.9 L342.7 469.3 L344.9 467.6 L347.0 466.1 L348.4 468.3 L350.6 467.6 L354.2 465.7 L359.2 464.7 L364.9 466.1 L369.9 467.9 L376.3 470.4 L382.7 472.6 L384.2 471.1 L384.9 476.1 L389.2 476.9 L393.4 476.1 L398.4 479.0 L400.6 480.4 L403.4 479.7 L405.6 481.9 L406.3 485.4 L405.6 489.0 L407.0 493.3 L408.4 497.6 L409.2 499.7 L406.3 501.1 L402.7 502.6 L402.0 504.0 L404.9 504.7 L405.6 506.9 L408.4 509.0 L411.3 511.1 L414.2 514.7 L416.3 519.0 L417.0 524.7 L417.7 529.0 L417.0 533.3 L417.7 536.9 L415.6 539.7 L414.9 543.3 L412.7 545.4 L413.4 548.3 L412.0 550.4 L410.6 554.0 L408.4 554.0 L407.0 556.9 L405.6 559.7 L402.0 561.9 L399.9 564.0 L400.6 566.1 L398.4 568.3 L394.9 570.4 L390.6 572.6 L387.0 574.0 L383.4 574.0 L379.2 575.4 L374.9 575.4 L372.0 576.9 L368.4 576.1 L366.3 574.0 L364.2 575.4 L361.3 574.0 L358.4 572.6 L357.7 569.7 L359.9 566.1 L362.0 561.9 L360.6 558.3 L357.7 556.9 L359.2 554.0 L359.2 549.7 L357.7 546.1 L354.9 542.6 L350.6 539.7 L347.7 536.9 L344.9 533.3 L342.7 533.3 L341.3 536.1 L340.6 539.7 L338.8 542.6 L337.0 543.3 L334.9 544.7 L335.2 548.3 L335.6 551.1 L336.7 554.0 L335.9 556.1 L334.2 555.1 L332.7 552.6 L330.2 551.9 L328.4 553.3 L327.0 555.1 L324.9 553.6 L322.0 553.3 L319.5 552.2 L318.1 550.4 L318.4 547.6 L317.4 546.1 L315.9 547.2 L312.7 547.4 L310.2 547.6 L309.2 545.4 L308.4 542.9 L310.2 542.6 L312.0 541.5 L311.3 539.0 L309.2 538.6 L306.7 539.0 L307.7 536.9 L309.5 534.7 L308.1 532.6 L308.1 530.1 L306.7 529.4 L305.2 530.8 L303.4 530.4 L302.0 532.6 L300.6 530.4 L298.8 531.5 L298.4 528.3 L299.5 526.9 L300.6 523.3 L301.7 518.3 L302.0 514.0 L301.4 516.9 L301.7 512.9 L301.2 511.1 L297.7 505.4 L295.2 500.6 L293.1 498.3 L290.6 497.9 L288.1 498.3 L288.8 495.4 L287.0 492.6 L284.9 490.4 L283.8 488.3 L284.5 484.0 L285.2 479.7Z" fill="#ff501a"/>
<path d="M280.7 477.1 L289.3 492.9 L295.0 497.9 L303.6 496.4 L310.7 501.4 L314.3 508.6 L320.7 505.7 L327.9 502.9 L331.4 507.1 L335.0 511.4 L337.9 517.1 L332.1 520.0 L325.0 520.7 L319.3 522.9 L323.6 525.0 L332.1 524.3 L339.3 522.9 L343.6 527.1 L346.4 532.9 L342.1 534.3 L340.7 540.0 L337.9 545.7 L335.0 552.9 L329.3 554.3 L322.1 552.9 L317.9 548.6 L310.7 547.1 L308.6 540.0 L305.7 531.4 L299.3 528.6 L300.0 520.0 L301.4 510.0 L293.6 509.3 L291.4 505.7 L283.6 495.7 L279.3 481.4Z" fill="#e03600"/>
<path d="M307.9 507.1 C308.9 506.5 311.9 508.1 313.6 509.3 C315.2 510.5 317.4 513.0 317.9 514.3 C318.3 515.6 317.6 516.8 316.4 517.1 C315.2 517.5 312.3 517.1 310.7 516.4 C309.2 515.7 307.6 514.4 307.1 512.9 C306.7 511.3 306.8 507.7 307.9 507.1Z" fill="#ff501a"/>
<path d="M319.3 522.1 L325.0 520.7 L332.1 520.0 L338.6 517.9 L342.1 521.4 L339.3 523.6 L332.1 524.6 L323.6 525.4Z" fill="#ff501a"/>
<path d="M309.3 537.1 C310.4 535.3 315.2 534.4 317.9 533.6 C320.5 532.7 323.0 531.8 325.0 532.1 C327.0 532.5 329.5 533.9 330.0 535.7 C330.5 537.5 329.2 540.9 328.1 542.9 C327.1 544.8 325.3 546.9 323.6 547.4 C321.9 548.0 319.9 546.5 317.9 546.0 C315.8 545.5 312.9 546.0 311.4 544.6 C310.0 543.1 308.2 539.0 309.3 537.1Z" fill="#ff501a"/>
<path d="M292.1 505.7 C292.4 504.8 296.0 504.9 297.9 505.0 C299.8 505.1 302.7 505.6 303.6 506.4 C304.5 507.3 304.5 509.4 303.3 510.0 C302.1 510.6 298.3 511.0 296.4 510.3 C294.6 509.6 291.9 506.6 292.1 505.7Z" fill="#c02000"/>
<path d="M327.9 542.9 C328.2 541.3 330.7 540.6 332.1 540.7 C333.6 540.8 335.8 542.1 336.4 543.6 C337.0 545.0 336.8 548.2 335.7 549.3 C334.6 550.4 331.3 551.4 330.0 550.3 C328.7 549.2 327.5 544.5 327.9 542.9Z" fill="#c02000"/>
<path d="M337.9 531.4 C338.5 530.2 342.0 528.5 343.6 528.6 C345.1 528.7 346.9 530.8 347.1 532.1 C347.4 533.4 346.2 535.8 345.0 536.4 C343.8 537.0 341.2 536.5 340.0 535.7 C338.8 534.9 337.3 532.6 337.9 531.4Z" fill="#c02000"/>
<path d="M341.0 532.1 C341.2 531.4 343.5 530.5 344.3 530.7 C345.1 530.9 345.9 532.8 345.7 533.6 C345.5 534.4 344.1 535.7 343.3 535.4 C342.5 535.2 340.8 532.9 341.0 532.1Z" fill="#8c0000"/>
<path d="M334.3 475.7 C336.0 472.6 339.1 471.2 341.4 470.0 C343.8 468.8 347.0 467.9 348.6 468.6 C350.1 469.3 350.9 472.5 350.7 474.3 C350.5 476.1 347.6 477.4 347.1 479.3 C346.7 481.2 348.0 483.4 347.9 485.7 C347.7 488.0 347.1 490.5 346.4 492.9 C345.7 495.2 345.1 498.3 343.6 500.0 C342.0 501.7 339.6 502.6 337.1 502.9 C334.6 503.1 330.5 502.6 328.6 501.4 C326.7 500.2 325.2 497.9 325.7 495.7 C326.2 493.6 330.0 491.9 331.4 488.6 C332.9 485.2 332.6 478.8 334.3 475.7Z" fill="#e03600"/>
<path d="M387.1 470.0 C387.9 468.8 392.1 470.5 394.3 471.4 C396.4 472.4 399.5 474.3 400.0 475.7 C400.5 477.1 398.8 479.5 397.1 480.0 C395.5 480.5 391.7 480.2 390.0 478.6 C388.3 476.9 386.4 471.2 387.1 470.0Z" fill="#e03600"/>
<path d="M347.1 479.3 L350.7 475.0 L357.1 473.6 L364.3 475.4 L371.4 476.9 L380.0 476.0 L385.0 478.6 L387.4 484.3 L387.9 490.7 L392.1 495.0 L400.0 493.1 L405.0 496.4 L403.6 501.4 L397.9 503.6 L392.1 506.4 L387.9 510.7 L386.4 517.1 L388.6 522.1 L394.3 517.1 L400.0 514.3 L406.4 516.4 L405.0 522.9 L399.3 527.1 L395.0 532.1 L389.3 535.0 L385.0 540.7 L383.6 548.6 L382.9 560.0 L387.1 561.4 L382.9 574.3 L371.4 574.3 L362.9 571.4 L361.4 560.0 L357.1 547.1 L348.6 535.7 L348.6 534.3 L341.4 528.6 L338.6 522.9 L340.0 515.7 L341.4 507.1 L343.6 500.0 L346.4 492.9 L347.9 485.7Z" fill="#ff7846"/>
<path d="M382.9 514.3 C384.6 512.9 388.3 512.6 391.4 512.9 C394.5 513.1 398.6 514.0 401.4 515.7 C404.3 517.4 407.6 520.2 408.6 522.9 C409.5 525.5 408.6 529.3 407.1 531.4 C405.7 533.6 402.9 535.2 400.0 535.7 C397.1 536.2 392.9 535.5 390.0 534.3 C387.1 533.1 384.4 530.7 382.9 528.6 C381.3 526.4 380.7 523.8 380.7 521.4 C380.7 519.0 381.1 515.7 382.9 514.3Z" fill="#ff7846"/>
<path d="M342.9 502.9 C343.9 500.7 346.7 497.3 348.6 495.7 C350.5 494.2 352.6 493.3 354.3 493.6 C356.0 493.8 357.1 495.6 358.6 497.1 C360.0 498.7 361.2 501.2 362.9 502.9 C364.5 504.5 366.9 507.1 368.6 507.1 C370.2 507.1 371.4 504.3 372.9 502.9 C374.3 501.4 375.2 499.6 377.1 498.6 C379.0 497.5 381.9 497.1 384.3 496.4 C386.7 495.7 389.1 494.8 391.4 494.3 C393.8 493.8 396.5 493.2 398.6 493.6 C400.6 493.9 402.9 495.2 403.6 496.4 C404.3 497.6 403.9 499.6 402.9 500.7 C401.8 501.8 399.0 502.0 397.1 502.9 C395.2 503.7 393.2 504.5 391.4 505.7 C389.6 506.9 387.9 508.3 386.4 510.0 C385.0 511.7 383.9 514.0 382.9 515.7 C381.8 517.4 381.0 518.6 380.0 520.0 C379.0 521.4 378.1 522.4 377.1 524.3 C376.2 526.2 374.5 529.3 374.3 531.4 C374.1 533.6 374.8 535.2 375.7 537.1 C376.7 539.0 379.0 541.0 380.0 542.9 C381.0 544.8 381.2 545.7 381.4 548.6 C381.7 551.4 382.5 558.1 381.4 560.0 C380.4 561.9 376.4 561.2 375.0 560.0 C373.6 558.8 373.9 555.2 372.9 552.9 C371.8 550.5 370.2 547.9 368.6 545.7 C366.9 543.6 364.8 541.4 362.9 540.0 C361.0 538.6 359.0 538.3 357.1 537.1 C355.2 536.0 353.3 534.3 351.4 532.9 C349.5 531.4 347.4 530.2 345.7 528.6 C344.0 526.9 342.1 525.2 341.4 522.9 C340.7 520.5 341.3 516.7 341.4 514.3 C341.5 511.9 341.9 510.5 342.1 508.6 C342.4 506.7 341.8 505.0 342.9 502.9Z" fill="#ffa882"/>
<path d="M361.4 477.9 C362.1 476.8 366.0 477.1 368.6 477.1 C371.2 477.1 375.0 477.1 377.1 477.9 C379.3 478.6 381.0 479.9 381.4 481.4 C381.9 483.0 381.2 485.8 380.0 487.1 C378.8 488.4 376.2 489.2 374.3 489.3 C372.4 489.4 370.2 488.8 368.6 487.9 C366.9 486.9 365.5 485.2 364.3 483.6 C363.1 481.9 360.7 478.9 361.4 477.9Z" fill="#ffa882"/>
<path d="M363.6 540.0 C365.2 537.3 370.8 538.8 372.9 540.7 C374.9 542.6 375.5 547.7 375.7 551.4 C375.9 555.1 375.1 559.5 374.3 562.9 C373.5 566.2 372.3 570.1 370.7 571.4 C369.2 572.7 366.3 573.1 365.0 570.7 C363.7 568.3 363.1 562.3 362.9 557.1 C362.6 552.0 361.9 542.7 363.6 540.0Z" fill="#ffa882"/>
<path d="M346.4 505.7 C347.5 503.6 349.2 502.3 350.7 501.4 C352.3 500.6 353.9 500.2 355.7 500.7 C357.5 501.2 359.5 502.7 361.4 504.3 C363.3 505.8 365.7 507.9 367.1 510.0 C368.6 512.1 369.5 514.8 370.0 517.1 C370.5 519.5 370.2 521.9 370.0 524.3 C369.8 526.7 368.6 529.3 368.6 531.4 C368.6 533.6 369.0 535.2 370.0 537.1 C371.0 539.0 373.1 541.0 374.3 542.9 C375.5 544.8 376.5 546.7 377.1 548.6 C377.7 550.5 378.1 552.9 377.9 554.3 C377.6 555.7 376.5 557.6 375.7 557.1 C374.9 556.7 374.1 553.6 372.9 551.4 C371.7 549.3 370.2 546.4 368.6 544.3 C366.9 542.1 364.8 540.2 362.9 538.6 C361.0 536.9 359.0 535.6 357.1 534.3 C355.2 533.0 353.1 531.9 351.4 530.7 C349.8 529.5 348.6 528.2 347.1 527.1 C345.7 526.1 344.5 524.4 342.9 524.3 C341.2 524.2 337.4 526.9 337.1 526.4 C336.9 526.0 340.2 523.5 341.4 521.4 C342.6 519.4 343.5 516.9 344.3 514.3 C345.1 511.7 345.4 507.9 346.4 505.7Z" fill="#ffcdb4"/>
<path d="M375.0 505.7 C375.7 504.2 377.0 502.6 378.6 501.4 C380.1 500.2 382.1 499.4 384.3 498.6 C386.4 497.7 389.2 497.0 391.4 496.4 C393.7 495.8 396.3 494.9 397.9 495.0 C399.4 495.1 400.6 496.2 400.7 497.1 C400.8 498.1 399.9 499.8 398.6 500.7 C397.3 501.7 394.8 501.9 392.9 502.9 C391.0 503.8 388.8 505.0 387.1 506.4 C385.5 507.9 384.1 509.8 382.9 511.4 C381.7 513.1 381.1 515.7 380.0 516.4 C378.9 517.1 377.4 516.7 376.4 515.7 C375.5 514.8 374.5 512.4 374.3 510.7 C374.1 509.0 374.3 507.3 375.0 505.7Z" fill="#ffcdb4"/>
<path d="M368.6 480.0 C369.5 479.3 373.7 479.4 375.0 480.0 C376.3 480.6 376.8 482.6 376.4 483.6 C376.1 484.6 374.1 485.9 372.9 486.0 C371.7 486.1 370.0 485.3 369.3 484.3 C368.6 483.3 367.6 480.7 368.6 480.0Z" fill="#ffcdb4"/>
<path d="M364.6 551.4 C365.2 549.8 368.8 550.0 369.7 551.7 C370.7 553.4 371.0 559.8 370.3 561.4 C369.6 563.1 366.7 563.4 365.7 561.7 C364.8 560.0 363.9 553.1 364.6 551.4Z" fill="#ffcdb4"/>
<path d="M347.9 507.9 C348.9 506.3 350.6 505.4 352.1 505.0 C353.7 504.6 355.4 505.0 357.1 505.7 C358.9 506.4 361.3 507.6 362.9 509.3 C364.4 511.0 365.7 513.4 366.4 515.7 C367.1 518.0 367.4 520.7 367.1 522.9 C366.9 525.0 366.0 527.1 365.0 528.6 C364.0 530.0 362.9 531.0 361.4 531.4 C360.0 531.9 358.1 531.8 356.4 531.4 C354.8 531.1 353.0 530.0 351.4 529.3 C349.9 528.6 348.3 528.5 347.1 527.1 C345.9 525.8 344.5 523.6 344.3 521.4 C344.1 519.3 345.1 516.6 345.7 514.3 C346.3 512.0 346.8 509.4 347.9 507.9Z" fill="#ffe8d8"/>
<path d="M377.1 508.6 C377.4 507.3 379.2 507.2 379.7 508.3 C380.2 509.4 380.6 513.8 380.3 515.0 C380.0 516.2 378.4 516.8 377.9 515.7 C377.3 514.6 376.8 509.8 377.1 508.6Z" fill="#ffe8d8"/>
<path d="M394.3 496.0 C394.9 495.2 398.3 495.0 399.3 495.4 C400.2 495.9 400.6 498.1 400.0 498.9 C399.4 499.6 396.7 500.5 395.7 500.0 C394.8 499.5 393.7 496.8 394.3 496.0Z" fill="#ffe8d8"/>
<path d="M355.7 513.6 C356.5 512.7 360.0 511.5 361.4 512.1 C362.9 512.7 364.0 515.2 364.6 517.1 C365.1 519.0 365.1 521.8 364.6 523.6 C364.0 525.4 362.8 527.3 361.4 527.9 C360.1 528.5 357.1 528.1 356.4 527.1 C355.8 526.2 357.4 523.8 357.4 522.1 C357.4 520.5 356.7 518.6 356.4 517.1 C356.1 515.7 354.9 514.4 355.7 513.6Z" fill="#d8ebff"/>
<path d="M357.4 516.0 C358.0 515.0 360.2 514.9 361.1 515.4 C362.0 516.0 362.6 517.9 362.9 519.3 C363.1 520.6 363.2 522.6 362.6 523.6 C362.0 524.5 360.1 525.4 359.3 525.0 C358.5 524.6 358.2 522.9 357.9 521.4 C357.6 519.9 356.9 517.0 357.4 516.0Z" fill="#b4ceff"/>
</g>
<path d="M283.1 477.4 C284.0 475.8 286.8 474.1 288.9 473.4 C291.0 472.7 293.9 472.8 295.7 473.4 C297.5 474.0 299.0 475.1 299.7 476.9 C300.4 478.7 300.2 482.2 299.7 484.3 C299.2 486.4 297.8 488.2 296.9 489.4 C295.9 490.6 295.1 491.5 294.0 491.7 C292.9 491.9 291.2 491.4 290.0 490.6 C288.8 489.8 287.7 488.4 286.6 487.1 C285.6 485.9 284.3 484.7 283.7 483.1 C283.1 481.5 282.2 479.0 283.1 477.4Z" fill="#1a50ff"/>
<path d="M290.0 480.9 C290.9 480.0 294.2 480.0 295.1 480.9 C296.0 481.8 296.0 485.1 295.1 486.0 C294.2 486.9 290.9 486.9 290.0 486.0 C289.1 485.1 289.1 481.8 290.0 480.9Z" fill="#0036e0"/>
<path d="M356.0 522.1 C356.0 522.6 355.9 523.2 355.8 523.7 C355.7 524.2 355.5 524.7 355.2 525.1 C354.9 525.5 354.6 526.0 354.2 526.3 C353.9 526.7 353.4 527.0 353.0 527.3 C352.6 527.6 352.1 527.8 351.6 527.9 C351.1 528.0 350.5 528.1 350.0 528.1 C349.5 528.1 348.9 528.0 348.4 527.9 C347.9 527.8 347.4 527.6 347.0 527.3 C346.6 527.0 346.1 526.7 345.8 526.3 C345.4 526.0 345.1 525.5 344.8 525.1 C344.5 524.7 344.3 524.2 344.2 523.7 C344.1 523.2 344.0 522.6 344.0 522.1 C344.0 521.6 344.1 521.0 344.2 520.5 C344.3 520.0 344.5 519.5 344.8 519.1 C345.1 518.7 345.4 518.2 345.8 517.9 C346.1 517.5 346.6 517.2 347.0 516.9 C347.4 516.6 347.9 516.4 348.4 516.3 C348.9 516.2 349.5 516.1 350.0 516.1 C350.5 516.1 351.1 516.2 351.6 516.3 C352.1 516.4 352.6 516.6 353.0 516.9 C353.4 517.2 353.9 517.5 354.2 517.9 C354.6 518.2 354.9 518.7 355.2 519.1 C355.5 519.5 355.7 520.0 355.8 520.5 C355.9 521.0 356.0 521.6 356.0 522.1Z" fill="#fff"/>
<path d="M286.3 478.3 L287.2 481.1 L287.2 483.6 L287.9 487.6 L290.6 491.1 L292.9 494.6 L294.9 495.4 L297.0 494.4 L300.6 495.4 L304.9 496.9 L309.2 498.6 L312.0 501.1 L314.2 504.0 L315.6 507.6 L317.7 504.0 L320.6 501.9 L324.9 500.4 L328.9 497.3 L329.9 493.3 L330.6 487.6 L332.3 481.1 L335.6 474.0 L339.2 469.7 L341.3 467.9 L342.7 469.3 L344.9 467.6 L347.0 466.1 L348.4 468.3 L350.6 467.6 L354.2 465.7 L359.2 464.7 L364.9 466.1 L369.9 467.9 L376.3 470.4 L382.7 472.6 L384.2 471.1 L384.9 476.1 L389.2 476.9 L393.4 476.1 L398.4 479.0 L400.6 480.4 L403.4 479.7 L405.6 481.9 L406.3 485.4 L405.6 489.0 L407.0 493.3 L408.4 497.6 L409.2 499.7 L406.3 501.1 L402.7 502.6 L402.0 504.0 L404.9 504.7 L405.6 506.9 L408.4 509.0 L411.3 511.1 L414.2 514.7 L416.3 519.0 L417.0 524.7 L417.7 529.0 L417.0 533.3 L417.7 536.9 L415.6 539.7 L414.9 543.3 L412.7 545.4 L413.4 548.3 L412.0 550.4 L410.6 554.0 L408.4 554.0 L407.0 556.9 L405.6 559.7 L402.0 561.9 L399.9 564.0 L400.6 566.1 L398.4 568.3 L394.9 570.4 L390.6 572.6 L387.0 574.0 L383.4 574.0 L379.2 575.4 L374.9 575.4 L372.0 576.9 L368.4 576.1 L366.3 574.0 L364.2 575.4 L361.3 574.0 L358.4 572.6 L357.7 569.7 L359.9 566.1 L362.0 561.9 L360.6 558.3 L357.7 556.9 L359.2 554.0 L359.2 549.7 L357.7 546.1 L354.9 542.6 L350.6 539.7 L347.7 536.9 L344.9 533.3 L342.7 533.3 L341.3 536.1 L340.6 539.7 L338.8 542.6 L337.0 543.3 L334.9 544.7 L335.2 548.3 L335.6 551.1 L336.7 554.0 L335.9 556.1 L334.2 555.1 L332.7 552.6 L330.2 551.9 L328.4 553.3 L327.0 555.1 L324.9 553.6 L322.0 553.3 L319.5 552.2 L318.1 550.4 L318.4 547.6 L317.4 546.1 L315.9 547.2 L312.7 547.4 L310.2 547.6 L309.2 545.4 L308.4 542.9 L310.2 542.6 L312.0 541.5 L311.3 539.0 L309.2 538.6 L306.7 539.0 L307.7 536.9 L309.5 534.7 L308.1 532.6 L308.1 530.1 L306.7 529.4 L305.2 530.8 L303.4 530.4 L302.0 532.6 L300.6 530.4 L298.8 531.5 L298.4 528.3 L299.5 526.9 L300.6 523.3 L301.7 518.3 L302.0 514.0 L301.4 516.9 L301.7 512.9 L301.2 511.1 L297.7 505.4 L295.2 500.6 L293.1 498.3 L290.6 497.9 L288.1 498.3 L288.8 495.4 L287.0 492.6 L284.9 490.4 L283.8 488.3 L284.5 484.0 L285.2 479.7Z" fill="none" stroke="#000" stroke-width="0.9" stroke-linejoin="round"/>
<path d="M292.7 502.2 L294.9 501.5 L299.9 501.5 L303.4 502.6 L305.0 504.7 L305.0 509.1 L303.4 509.5 L301.4 511.1 L301.3 509.7 L303.1 507.6 L303.1 505.4 L301.7 503.6 L297.7 503.3 L293.4 503.3Z" fill="none" stroke="#000" stroke-width="0.8"/>
<path d="M297.7 503.6 L297.7 508.3 L299.9 508.6 L301.7 507.2 L301.7 504.0Z" fill="none" stroke="#000" stroke-width="0.6"/>
<path d="M293.8 506.5 L295.2 505.8 L295.9 507.6 L294.5 508.3Z" fill="none" stroke="#000" stroke-width="0.6"/>
<path d="M339.3 548.7 L340.7 548.0 L341.2 551.0 L339.7 551.9Z" fill="none" stroke="#000" stroke-width="0.6"/>
<path d="M280.6 479.0 L281.7 479.0 L281.4 484.0 L280.4 484.0Z" fill="#000" stroke="#000" stroke-width="0.5"/>
<path d="M288.3 462.1 L290.0 462.1 L290.0 463.3 L288.3 463.3Z" fill="#000" stroke="#000" stroke-width="0.5"/>
<path d="M254.8 481.9 L256.9 480.2 L256.5 484.4 L254.5 487.0Z" fill="#000" stroke="#000" stroke-width="0.5"/>
</g>
<circle cx="349.7" cy="522.2" r="101.9" fill="none" stroke="#333" stroke-width="0.7"/>
<rect x="93.96" y="323.8" width="12.39" height="10.0" fill="#00009a" stroke="#000" stroke-width="0.6"/>
<rect x="106.35" y="323.8" width="12.39" height="10.0" fill="#0020c0" stroke="#000" stroke-width="0.6"/>
<rect x="118.73" y="323.8" width="12.39" height="10.0" fill="#0036e0" stroke="#000" stroke-width="0.6"/>
<rect x="131.12" y="323.8" width="12.39" height="10.0" fill="#1a50ff" stroke="#000" stroke-width="0.6"/>
<rect x="143.51" y="323.8" width="12.39" height="10.0" fill="#4678ff" stroke="#000" stroke-width="0.6"/>
<rect x="155.90" y="323.8" width="12.39" height="10.0" fill="#82a6ff" stroke="#000" stroke-width="0.6"/>
<rect x="168.28" y="323.8" width="12.39" height="10.0" fill="#b4ceff" stroke="#000" stroke-width="0.6"/>
<rect x="180.67" y="323.8" width="12.39" height="10.0" fill="#d8ebff" stroke="#000" stroke-width="0.6"/>
<rect x="193.06" y="323.8" width="12.39" height="10.0" fill="#ffe8d8" stroke="#000" stroke-width="0.6"/>
<rect x="205.45" y="323.8" width="12.39" height="10.0" fill="#ffcdb4" stroke="#000" stroke-width="0.6"/>
<rect x="217.83" y="323.8" width="12.39" height="10.0" fill="#ffa882" stroke="#000" stroke-width="0.6"/>
<rect x="230.22" y="323.8" width="12.39" height="10.0" fill="#ff7846" stroke="#000" stroke-width="0.6"/>
<rect x="242.61" y="323.8" width="12.39" height="10.0" fill="#ff501a" stroke="#000" stroke-width="0.6"/>
<rect x="255.00" y="323.8" width="12.39" height="10.0" fill="#e03600" stroke="#000" stroke-width="0.6"/>
<rect x="267.38" y="323.8" width="12.39" height="10.0" fill="#c02000" stroke="#000" stroke-width="0.6"/>
<rect x="279.77" y="323.8" width="12.39" height="10.0" fill="#8c0000" stroke="#000" stroke-width="0.6"/>
<text x="106.35" y="344.8" font-size="7.7" text-anchor="middle" font-weight="normal" >150</text>
<text x="131.12" y="344.8" font-size="7.7" text-anchor="middle" font-weight="normal" >170</text>
<text x="155.90" y="344.8" font-size="7.7" text-anchor="middle" font-weight="normal" >190</text>
<text x="180.67" y="344.8" font-size="7.7" text-anchor="middle" font-weight="normal" >210</text>
<text x="205.45" y="344.8" font-size="7.7" text-anchor="middle" font-weight="normal" >230</text>
<text x="230.22" y="344.8" font-size="7.7" text-anchor="middle" font-weight="normal" >250</text>
<text x="255.00" y="344.8" font-size="7.7" text-anchor="middle" font-weight="normal" >270</text>
<text x="279.77" y="344.8" font-size="7.7" text-anchor="middle" font-weight="normal" >290</text>
<rect x="407.16" y="323.8" width="12.39" height="10.0" fill="#00009a" stroke="#000" stroke-width="0.6"/>
<rect x="419.55" y="323.8" width="12.39" height="10.0" fill="#0020c0" stroke="#000" stroke-width="0.6"/>
<rect x="431.94" y="323.8" width="12.39" height="10.0" fill="#0036e0" stroke="#000" stroke-width="0.6"/>
<rect x="444.32" y="323.8" width="12.39" height="10.0" fill="#1a50ff" stroke="#000" stroke-width="0.6"/>
<rect x="456.71" y="323.8" width="12.39" height="10.0" fill="#4678ff" stroke="#000" stroke-width="0.6"/>
<rect x="469.10" y="323.8" width="12.39" height="10.0" fill="#82a6ff" stroke="#000" stroke-width="0.6"/>
<rect x="481.49" y="323.8" width="12.39" height="10.0" fill="#b4ceff" stroke="#000" stroke-width="0.6"/>
<rect x="493.87" y="323.8" width="12.39" height="10.0" fill="#d8ebff" stroke="#000" stroke-width="0.6"/>
<rect x="506.26" y="323.8" width="12.39" height="10.0" fill="#ffe8d8" stroke="#000" stroke-width="0.6"/>
<rect x="518.65" y="323.8" width="12.39" height="10.0" fill="#ffcdb4" stroke="#000" stroke-width="0.6"/>
<rect x="531.04" y="323.8" width="12.39" height="10.0" fill="#ffa882" stroke="#000" stroke-width="0.6"/>
<rect x="543.42" y="323.8" width="12.39" height="10.0" fill="#ff7846" stroke="#000" stroke-width="0.6"/>
<rect x="555.81" y="323.8" width="12.39" height="10.0" fill="#ff501a" stroke="#000" stroke-width="0.6"/>
<rect x="568.20" y="323.8" width="12.39" height="10.0" fill="#e03600" stroke="#000" stroke-width="0.6"/>
<rect x="580.59" y="323.8" width="12.39" height="10.0" fill="#c02000" stroke="#000" stroke-width="0.6"/>
<rect x="592.97" y="323.8" width="12.39" height="10.0" fill="#8c0000" stroke="#000" stroke-width="0.6"/>
<text x="419.55" y="344.8" font-size="7.7" text-anchor="middle" font-weight="normal" >150</text>
<text x="444.32" y="344.8" font-size="7.7" text-anchor="middle" font-weight="normal" >170</text>
<text x="469.10" y="344.8" font-size="7.7" text-anchor="middle" font-weight="normal" >190</text>
<text x="493.87" y="344.8" font-size="7.7" text-anchor="middle" font-weight="normal" >210</text>
<text x="518.65" y="344.8" font-size="7.7" text-anchor="middle" font-weight="normal" >230</text>
<text x="543.42" y="344.8" font-size="7.7" text-anchor="middle" font-weight="normal" >250</text>
<text x="568.20" y="344.8" font-size="7.7" text-anchor="middle" font-weight="normal" >270</text>
<text x="592.97" y="344.8" font-size="7.7" text-anchor="middle" font-weight="normal" >290</text>
<rect x="496.8" y="611.21" width="17.3" height="10.19" fill="#00009a" stroke="#000" stroke-width="0.6"/>
<rect x="496.8" y="601.01" width="17.3" height="10.19" fill="#0020c0" stroke="#000" stroke-width="0.6"/>
<rect x="496.8" y="590.82" width="17.3" height="10.19" fill="#0036e0" stroke="#000" stroke-width="0.6"/>
<rect x="496.8" y="580.62" width="17.3" height="10.19" fill="#1a50ff" stroke="#000" stroke-width="0.6"/>
<rect x="496.8" y="570.43" width="17.3" height="10.19" fill="#4678ff" stroke="#000" stroke-width="0.6"/>
<rect x="496.8" y="560.24" width="17.3" height="10.19" fill="#82a6ff" stroke="#000" stroke-width="0.6"/>
<rect x="496.8" y="550.04" width="17.3" height="10.19" fill="#b4ceff" stroke="#000" stroke-width="0.6"/>
<rect x="496.8" y="539.85" width="17.3" height="10.19" fill="#d8ebff" stroke="#000" stroke-width="0.6"/>
<rect x="496.8" y="529.66" width="17.3" height="10.19" fill="#ffe8d8" stroke="#000" stroke-width="0.6"/>
<rect x="496.8" y="519.46" width="17.3" height="10.19" fill="#ffcdb4" stroke="#000" stroke-width="0.6"/>
<rect x="496.8" y="509.27" width="17.3" height="10.19" fill="#ffa882" stroke="#000" stroke-width="0.6"/>
<rect x="496.8" y="499.07" width="17.3" height="10.19" fill="#ff7846" stroke="#000" stroke-width="0.6"/>
<rect x="496.8" y="488.88" width="17.3" height="10.19" fill="#ff501a" stroke="#000" stroke-width="0.6"/>
<rect x="496.8" y="478.69" width="17.3" height="10.19" fill="#e03600" stroke="#000" stroke-width="0.6"/>
<rect x="496.8" y="468.49" width="17.3" height="10.19" fill="#c02000" stroke="#000" stroke-width="0.6"/>
<rect x="496.8" y="458.30" width="17.3" height="10.19" fill="#8c0000" stroke="#000" stroke-width="0.6"/>
<text x="523.2" y="613.91" font-size="7.7" text-anchor="middle" font-weight="normal" >-25</text>
<text x="523.2" y="603.71" font-size="7.7" text-anchor="middle" font-weight="normal" >-20</text>
<text x="523.2" y="593.52" font-size="7.7" text-anchor="middle" font-weight="normal" >-15</text>
<text x="523.2" y="583.33" font-size="7.7" text-anchor="middle" font-weight="normal" >-10</text>
<text x="523.2" y="573.13" font-size="7.7" text-anchor="middle" font-weight="normal" >-7</text>
<text x="523.2" y="562.94" font-size="7.7" text-anchor="middle" font-weight="normal" >-5</text>
<text x="523.2" y="552.74" font-size="7.7" text-anchor="middle" font-weight="normal" >-3</text>
<text x="523.2" y="542.55" font-size="7.7" text-anchor="middle" font-weight="normal" >0</text>
<text x="523.2" y="532.36" font-size="7.7" text-anchor="middle" font-weight="normal" >3</text>
<text x="523.2" y="522.16" font-size="7.7" text-anchor="middle" font-weight="normal" >5</text>
<text x="523.2" y="511.97" font-size="7.7" text-anchor="middle" font-weight="normal" >7</text>
<text x="523.2" y="501.77" font-size="7.7" text-anchor="middle" font-weight="normal" >10</text>
<text x="523.2" y="491.58" font-size="7.7" text-anchor="middle" font-weight="normal" >15</text>
<text x="523.2" y="481.39" font-size="7.7" text-anchor="middle" font-weight="normal" >20</text>
<text x="523.2" y="471.19" font-size="7.7" text-anchor="middle" font-weight="normal" >25</text>
</svg>
</body></html>
